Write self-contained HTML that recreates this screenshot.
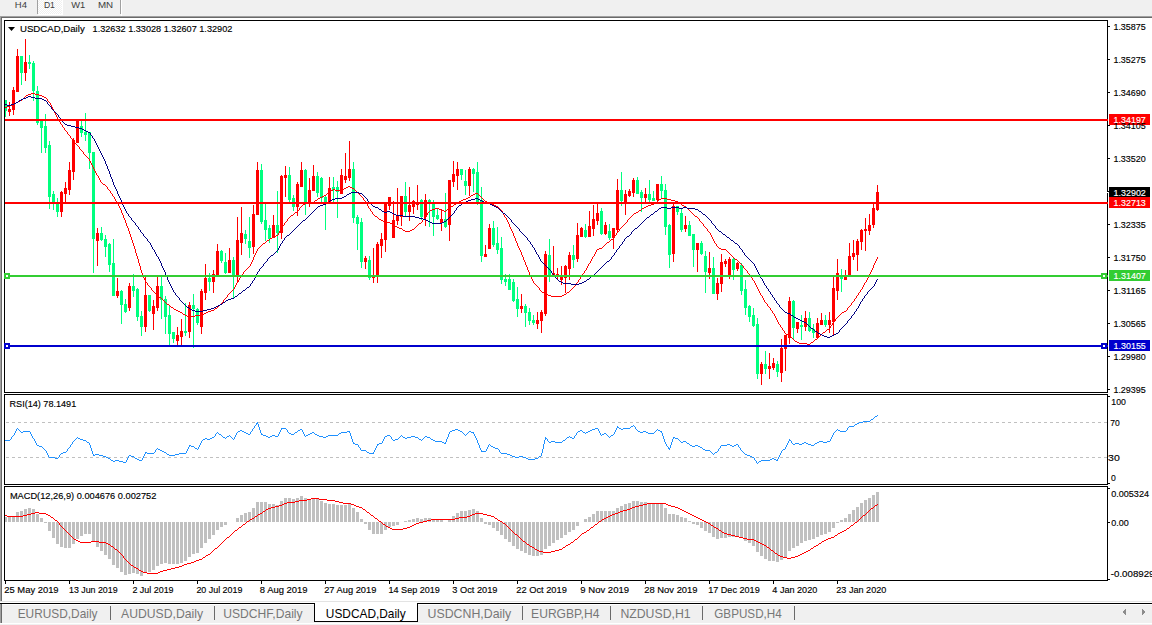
<!DOCTYPE html>
<html><head><meta charset="utf-8"><title>USDCAD,Daily</title>
<style>html,body{margin:0;padding:0;width:1152px;height:625px;overflow:hidden;background:#F0F0F0;font-family:"Liberation Sans", sans-serif;}</style>
</head><body>
<svg width="1152" height="625" viewBox="0 0 1152 625" style="position:absolute;left:0;top:0">
<rect x="0" y="0" width="1152" height="625" fill="#F0F0F0"/>
<g shape-rendering="crispEdges">
<rect x="0" y="16" width="1152" height="1" fill="#A0A0A0"/>
<rect x="0" y="17" width="1152" height="1" fill="#696969"/>
<rect x="0" y="16" width="1" height="586" fill="#A0A0A0"/>
<rect x="1" y="17" width="1" height="585" fill="#696969"/>
<rect x="2" y="18" width="1150" height="583" fill="#FFFFFF"/>
<rect x="0" y="601" width="1152" height="1" fill="#E3E3E3"/>
<rect x="0" y="602" width="1152" height="1" fill="#FFFFFF"/>
<rect x="0" y="603" width="1152" height="1" fill="#000000"/>
<rect x="0" y="604" width="1" height="19" fill="#A0A0A0"/>
<rect x="1" y="604" width="1" height="19" fill="#696969"/>
<rect x="2" y="604" width="1150" height="1" fill="#FFFFFF"/>
<rect x="0" y="623" width="1152" height="1" fill="#FFFFFF"/>
<rect x="314" y="603" width="104" height="19" fill="#000000"/>
<rect x="315" y="603" width="102" height="18" fill="#FFFFFF"/>
<rect x="110" y="606" width="1" height="14" fill="#6A6A6A"/>
<rect x="214" y="606" width="1" height="14" fill="#6A6A6A"/>
<rect x="522" y="606" width="1" height="14" fill="#6A6A6A"/>
<rect x="610" y="606" width="1" height="14" fill="#6A6A6A"/>
<rect x="702" y="606" width="1" height="14" fill="#6A6A6A"/>
<rect x="794" y="606" width="1" height="14" fill="#6A6A6A"/>
<rect x="37" y="0" width="1" height="14" fill="#A0A0A0"/>
<defs><pattern id="chk" x="0" y="0" width="2" height="2" patternUnits="userSpaceOnUse"><rect width="2" height="2" fill="#F0F0F0"/><rect width="1" height="1" fill="#FFFFFF"/><rect x="1" y="1" width="1" height="1" fill="#FFFFFF"/></pattern></defs>
<rect x="38" y="0" width="24" height="14" fill="url(#chk)"/>
<rect x="62" y="0" width="1" height="15" fill="#FFFFFF"/>
<rect x="38" y="14" width="25" height="1" fill="#FFFFFF"/>
<rect x="121" y="0" width="1" height="16" fill="#FFFFFF"/>
<rect x="120" y="0" width="1" height="14" fill="#A0A0A0"/>
<rect x="4" y="20" width="1104" height="1" fill="#000"/>
<rect x="4" y="392" width="1104" height="1" fill="#000"/>
<rect x="4" y="20" width="1" height="373" fill="#000"/>
<rect x="1107" y="20" width="1" height="373" fill="#000"/>
<rect x="4" y="394" width="1104" height="1" fill="#000"/>
<rect x="4" y="484" width="1104" height="1" fill="#000"/>
<rect x="4" y="394" width="1" height="91" fill="#000"/>
<rect x="1107" y="394" width="1" height="91" fill="#000"/>
<rect x="4" y="486" width="1104" height="1" fill="#000"/>
<rect x="4" y="580" width="1104" height="1" fill="#000"/>
<rect x="4" y="486" width="1" height="95" fill="#000"/>
<rect x="1107" y="486" width="1" height="95" fill="#000"/>
<rect x="1108" y="191" width="1" height="1" fill="#000"/>
<rect x="1107" y="192" width="1" height="1" fill="#FFF"/>
<rect x="1108" y="26" width="2" height="1" fill="#000"/>
<rect x="1108" y="59" width="2" height="1" fill="#000"/>
<rect x="1108" y="92" width="2" height="1" fill="#000"/>
<rect x="1108" y="125" width="2" height="1" fill="#000"/>
<rect x="1108" y="158" width="2" height="1" fill="#000"/>
<rect x="1108" y="191" width="2" height="1" fill="#000"/>
<rect x="1108" y="224" width="2" height="1" fill="#000"/>
<rect x="1108" y="257" width="2" height="1" fill="#000"/>
<rect x="1108" y="290" width="2" height="1" fill="#000"/>
<rect x="1108" y="323" width="2" height="1" fill="#000"/>
<rect x="1108" y="356" width="2" height="1" fill="#000"/>
<rect x="1108" y="389" width="2" height="1" fill="#000"/>
<rect x="1108" y="396" width="2" height="1" fill="#000"/>
<rect x="1108" y="483" width="2" height="1" fill="#000"/>
<rect x="1108" y="488" width="2" height="1" fill="#000"/>
<rect x="1108" y="522" width="2" height="1" fill="#000"/>
<rect x="1108" y="579" width="2" height="1" fill="#000"/>
<rect x="5" y="581" width="1" height="3" fill="#000"/>
<rect x="69" y="581" width="1" height="3" fill="#000"/>
<rect x="133" y="581" width="1" height="3" fill="#000"/>
<rect x="197" y="581" width="1" height="3" fill="#000"/>
<rect x="261" y="581" width="1" height="3" fill="#000"/>
<rect x="325" y="581" width="1" height="3" fill="#000"/>
<rect x="389" y="581" width="1" height="3" fill="#000"/>
<rect x="453" y="581" width="1" height="3" fill="#000"/>
<rect x="517" y="581" width="1" height="3" fill="#000"/>
<rect x="581" y="581" width="1" height="3" fill="#000"/>
<rect x="645" y="581" width="1" height="3" fill="#000"/>
<rect x="709" y="581" width="1" height="3" fill="#000"/>
<rect x="773" y="581" width="1" height="3" fill="#000"/>
<rect x="837" y="581" width="1" height="3" fill="#000"/>
<line x1="6" y1="422.5" x2="1107" y2="422.5" stroke="#C0C0C0" stroke-width="1" stroke-dasharray="3,3"/>
<line x1="6" y1="457.5" x2="1107" y2="457.5" stroke="#C0C0C0" stroke-width="1" stroke-dasharray="3,3"/>
<defs><clipPath id="mainclip"><rect x="5" y="21" width="1102" height="371"/></clipPath></defs>
<g clip-path="url(#mainclip)">
<rect x="5" y="100" width="1" height="17" fill="#00FF7F"/>
<rect x="4" y="100" width="3" height="11" fill="#00FF7F"/>
<rect x="9" y="102" width="1" height="14" fill="#FF0000"/>
<rect x="8" y="109" width="3" height="3" fill="#FF0000"/>
<rect x="13" y="87" width="1" height="28" fill="#FF0000"/>
<rect x="12" y="90" width="3" height="20" fill="#FF0000"/>
<rect x="17" y="49" width="1" height="43" fill="#FF0000"/>
<rect x="16" y="56" width="3" height="36" fill="#FF0000"/>
<rect x="21" y="56" width="1" height="29" fill="#00FF7F"/>
<rect x="20" y="56" width="3" height="17" fill="#00FF7F"/>
<rect x="25" y="39" width="1" height="42" fill="#FF0000"/>
<rect x="24" y="62" width="3" height="11" fill="#FF0000"/>
<rect x="29" y="55" width="1" height="14" fill="#00FF7F"/>
<rect x="28" y="62" width="3" height="2" fill="#00FF7F"/>
<rect x="33" y="61" width="1" height="40" fill="#00FF7F"/>
<rect x="32" y="63" width="3" height="28" fill="#00FF7F"/>
<rect x="37" y="86" width="1" height="39" fill="#00FF7F"/>
<rect x="36" y="91" width="3" height="32" fill="#00FF7F"/>
<rect x="41" y="119" width="1" height="34" fill="#00FF7F"/>
<rect x="40" y="121" width="3" height="7" fill="#00FF7F"/>
<rect x="45" y="114" width="1" height="39" fill="#00FF7F"/>
<rect x="44" y="126" width="3" height="22" fill="#00FF7F"/>
<rect x="49" y="141" width="1" height="68" fill="#00FF7F"/>
<rect x="48" y="145" width="3" height="52" fill="#00FF7F"/>
<rect x="53" y="191" width="1" height="19" fill="#00FF7F"/>
<rect x="52" y="194" width="3" height="8" fill="#00FF7F"/>
<rect x="57" y="198" width="1" height="19" fill="#00FF7F"/>
<rect x="56" y="204" width="3" height="8" fill="#00FF7F"/>
<rect x="61" y="191" width="1" height="26" fill="#FF0000"/>
<rect x="60" y="192" width="3" height="20" fill="#FF0000"/>
<rect x="65" y="182" width="1" height="21" fill="#FF0000"/>
<rect x="64" y="188" width="3" height="6" fill="#FF0000"/>
<rect x="69" y="162" width="1" height="33" fill="#FF0000"/>
<rect x="68" y="170" width="3" height="20" fill="#FF0000"/>
<rect x="73" y="138" width="1" height="42" fill="#FF0000"/>
<rect x="72" y="140" width="3" height="32" fill="#FF0000"/>
<rect x="77" y="120" width="1" height="23" fill="#FF0000"/>
<rect x="76" y="120" width="3" height="23" fill="#FF0000"/>
<rect x="81" y="120" width="1" height="17" fill="#00FF7F"/>
<rect x="80" y="126" width="3" height="7" fill="#00FF7F"/>
<rect x="85" y="113" width="1" height="28" fill="#00FF7F"/>
<rect x="84" y="132" width="3" height="3" fill="#00FF7F"/>
<rect x="89" y="132" width="1" height="37" fill="#00FF7F"/>
<rect x="88" y="132" width="3" height="21" fill="#00FF7F"/>
<rect x="93" y="152" width="1" height="121" fill="#00FF7F"/>
<rect x="92" y="152" width="3" height="87" fill="#00FF7F"/>
<rect x="97" y="228" width="1" height="38" fill="#FF0000"/>
<rect x="96" y="233" width="3" height="8" fill="#FF0000"/>
<rect x="101" y="227" width="1" height="14" fill="#00FF7F"/>
<rect x="100" y="233" width="3" height="7" fill="#00FF7F"/>
<rect x="105" y="235" width="1" height="22" fill="#00FF7F"/>
<rect x="104" y="239" width="3" height="8" fill="#00FF7F"/>
<rect x="109" y="243" width="1" height="29" fill="#00FF7F"/>
<rect x="108" y="244" width="3" height="21" fill="#00FF7F"/>
<rect x="113" y="239" width="1" height="57" fill="#00FF7F"/>
<rect x="112" y="263" width="3" height="33" fill="#00FF7F"/>
<rect x="117" y="278" width="1" height="20" fill="#FF0000"/>
<rect x="116" y="291" width="3" height="5" fill="#FF0000"/>
<rect x="121" y="290" width="1" height="34" fill="#00FF7F"/>
<rect x="120" y="291" width="3" height="14" fill="#00FF7F"/>
<rect x="125" y="299" width="1" height="14" fill="#00FF7F"/>
<rect x="124" y="304" width="3" height="8" fill="#00FF7F"/>
<rect x="129" y="283" width="1" height="28" fill="#FF0000"/>
<rect x="128" y="286" width="3" height="22" fill="#FF0000"/>
<rect x="133" y="274" width="1" height="23" fill="#00FF7F"/>
<rect x="132" y="286" width="3" height="5" fill="#00FF7F"/>
<rect x="137" y="288" width="1" height="33" fill="#00FF7F"/>
<rect x="136" y="289" width="3" height="28" fill="#00FF7F"/>
<rect x="141" y="311" width="1" height="25" fill="#00FF7F"/>
<rect x="140" y="316" width="3" height="11" fill="#00FF7F"/>
<rect x="145" y="276" width="1" height="56" fill="#FF0000"/>
<rect x="144" y="295" width="3" height="32" fill="#FF0000"/>
<rect x="149" y="295" width="1" height="17" fill="#00FF7F"/>
<rect x="148" y="295" width="3" height="16" fill="#00FF7F"/>
<rect x="153" y="300" width="1" height="30" fill="#FF0000"/>
<rect x="152" y="306" width="3" height="8" fill="#FF0000"/>
<rect x="157" y="277" width="1" height="34" fill="#FF0000"/>
<rect x="156" y="286" width="3" height="22" fill="#FF0000"/>
<rect x="161" y="277" width="1" height="42" fill="#00FF7F"/>
<rect x="160" y="286" width="3" height="14" fill="#00FF7F"/>
<rect x="165" y="296" width="1" height="38" fill="#00FF7F"/>
<rect x="164" y="299" width="3" height="18" fill="#00FF7F"/>
<rect x="169" y="306" width="1" height="40" fill="#00FF7F"/>
<rect x="168" y="315" width="3" height="19" fill="#00FF7F"/>
<rect x="173" y="332" width="1" height="11" fill="#00FF7F"/>
<rect x="172" y="332" width="3" height="7" fill="#00FF7F"/>
<rect x="177" y="327" width="1" height="19" fill="#FF0000"/>
<rect x="176" y="335" width="3" height="6" fill="#FF0000"/>
<rect x="181" y="319" width="1" height="26" fill="#FF0000"/>
<rect x="180" y="331" width="3" height="6" fill="#FF0000"/>
<rect x="185" y="303" width="1" height="33" fill="#00FF7F"/>
<rect x="184" y="331" width="3" height="2" fill="#00FF7F"/>
<rect x="189" y="302" width="1" height="36" fill="#FF0000"/>
<rect x="188" y="305" width="3" height="27" fill="#FF0000"/>
<rect x="193" y="294" width="1" height="54" fill="#00FF7F"/>
<rect x="192" y="305" width="3" height="4" fill="#00FF7F"/>
<rect x="197" y="308" width="1" height="17" fill="#00FF7F"/>
<rect x="196" y="309" width="3" height="14" fill="#00FF7F"/>
<rect x="201" y="289" width="1" height="45" fill="#FF0000"/>
<rect x="200" y="291" width="3" height="36" fill="#FF0000"/>
<rect x="205" y="264" width="1" height="36" fill="#FF0000"/>
<rect x="204" y="278" width="3" height="15" fill="#FF0000"/>
<rect x="209" y="273" width="1" height="18" fill="#00FF7F"/>
<rect x="208" y="278" width="3" height="4" fill="#00FF7F"/>
<rect x="213" y="270" width="1" height="23" fill="#FF0000"/>
<rect x="212" y="274" width="3" height="8" fill="#FF0000"/>
<rect x="217" y="244" width="1" height="32" fill="#FF0000"/>
<rect x="216" y="251" width="3" height="25" fill="#FF0000"/>
<rect x="221" y="250" width="1" height="13" fill="#00FF7F"/>
<rect x="220" y="251" width="3" height="10" fill="#00FF7F"/>
<rect x="225" y="253" width="1" height="21" fill="#00FF7F"/>
<rect x="224" y="262" width="3" height="11" fill="#00FF7F"/>
<rect x="229" y="248" width="1" height="25" fill="#FF0000"/>
<rect x="228" y="260" width="3" height="13" fill="#FF0000"/>
<rect x="233" y="257" width="1" height="42" fill="#00FF7F"/>
<rect x="232" y="260" width="3" height="16" fill="#00FF7F"/>
<rect x="237" y="217" width="1" height="66" fill="#FF0000"/>
<rect x="236" y="240" width="3" height="36" fill="#FF0000"/>
<rect x="241" y="207" width="1" height="48" fill="#FF0000"/>
<rect x="240" y="233" width="3" height="10" fill="#FF0000"/>
<rect x="245" y="230" width="1" height="14" fill="#00FF7F"/>
<rect x="244" y="234" width="3" height="5" fill="#00FF7F"/>
<rect x="249" y="217" width="1" height="41" fill="#00FF7F"/>
<rect x="248" y="241" width="3" height="7" fill="#00FF7F"/>
<rect x="253" y="205" width="1" height="49" fill="#FF0000"/>
<rect x="252" y="214" width="3" height="33" fill="#FF0000"/>
<rect x="257" y="162" width="1" height="53" fill="#FF0000"/>
<rect x="256" y="170" width="3" height="45" fill="#FF0000"/>
<rect x="261" y="164" width="1" height="60" fill="#00FF7F"/>
<rect x="260" y="170" width="3" height="52" fill="#00FF7F"/>
<rect x="265" y="203" width="1" height="38" fill="#00FF7F"/>
<rect x="264" y="220" width="3" height="10" fill="#00FF7F"/>
<rect x="269" y="225" width="1" height="18" fill="#00FF7F"/>
<rect x="268" y="228" width="3" height="11" fill="#00FF7F"/>
<rect x="273" y="215" width="1" height="23" fill="#FF0000"/>
<rect x="272" y="225" width="3" height="13" fill="#FF0000"/>
<rect x="277" y="191" width="1" height="62" fill="#00FF7F"/>
<rect x="276" y="225" width="3" height="8" fill="#00FF7F"/>
<rect x="281" y="175" width="1" height="64" fill="#FF0000"/>
<rect x="280" y="176" width="3" height="57" fill="#FF0000"/>
<rect x="285" y="166" width="1" height="31" fill="#FF0000"/>
<rect x="284" y="175" width="3" height="3" fill="#FF0000"/>
<rect x="289" y="167" width="1" height="35" fill="#00FF7F"/>
<rect x="288" y="175" width="3" height="25" fill="#00FF7F"/>
<rect x="293" y="195" width="1" height="16" fill="#00FF7F"/>
<rect x="292" y="198" width="3" height="9" fill="#00FF7F"/>
<rect x="297" y="182" width="1" height="34" fill="#FF0000"/>
<rect x="296" y="184" width="3" height="23" fill="#FF0000"/>
<rect x="301" y="162" width="1" height="25" fill="#FF0000"/>
<rect x="300" y="170" width="3" height="17" fill="#FF0000"/>
<rect x="305" y="169" width="1" height="46" fill="#00FF7F"/>
<rect x="304" y="170" width="3" height="33" fill="#00FF7F"/>
<rect x="309" y="178" width="1" height="29" fill="#FF0000"/>
<rect x="308" y="190" width="3" height="14" fill="#FF0000"/>
<rect x="313" y="165" width="1" height="26" fill="#FF0000"/>
<rect x="312" y="176" width="3" height="15" fill="#FF0000"/>
<rect x="317" y="172" width="1" height="25" fill="#00FF7F"/>
<rect x="316" y="176" width="3" height="17" fill="#00FF7F"/>
<rect x="321" y="177" width="1" height="25" fill="#00FF7F"/>
<rect x="320" y="178" width="3" height="20" fill="#00FF7F"/>
<rect x="325" y="196" width="1" height="34" fill="#00FF7F"/>
<rect x="324" y="197" width="3" height="6" fill="#00FF7F"/>
<rect x="329" y="177" width="1" height="25" fill="#FF0000"/>
<rect x="328" y="188" width="3" height="14" fill="#FF0000"/>
<rect x="333" y="177" width="1" height="26" fill="#00FF7F"/>
<rect x="332" y="187" width="3" height="3" fill="#00FF7F"/>
<rect x="337" y="181" width="1" height="37" fill="#00FF7F"/>
<rect x="336" y="187" width="3" height="5" fill="#00FF7F"/>
<rect x="341" y="169" width="1" height="25" fill="#FF0000"/>
<rect x="340" y="175" width="3" height="19" fill="#FF0000"/>
<rect x="345" y="153" width="1" height="30" fill="#FF0000"/>
<rect x="344" y="176" width="3" height="4" fill="#FF0000"/>
<rect x="349" y="141" width="1" height="40" fill="#FF0000"/>
<rect x="348" y="169" width="3" height="9" fill="#FF0000"/>
<rect x="353" y="162" width="1" height="61" fill="#00FF7F"/>
<rect x="352" y="169" width="3" height="49" fill="#00FF7F"/>
<rect x="357" y="215" width="1" height="35" fill="#00FF7F"/>
<rect x="356" y="217" width="3" height="7" fill="#00FF7F"/>
<rect x="361" y="218" width="1" height="50" fill="#00FF7F"/>
<rect x="360" y="222" width="3" height="40" fill="#00FF7F"/>
<rect x="365" y="256" width="1" height="13" fill="#FF0000"/>
<rect x="364" y="258" width="3" height="4" fill="#FF0000"/>
<rect x="369" y="256" width="1" height="24" fill="#00FF7F"/>
<rect x="368" y="260" width="3" height="18" fill="#00FF7F"/>
<rect x="373" y="248" width="1" height="35" fill="#FF0000"/>
<rect x="372" y="276" width="3" height="2" fill="#FF0000"/>
<rect x="377" y="242" width="1" height="41" fill="#FF0000"/>
<rect x="376" y="244" width="3" height="33" fill="#FF0000"/>
<rect x="381" y="233" width="1" height="25" fill="#FF0000"/>
<rect x="380" y="239" width="3" height="7" fill="#FF0000"/>
<rect x="385" y="203" width="1" height="49" fill="#FF0000"/>
<rect x="384" y="204" width="3" height="36" fill="#FF0000"/>
<rect x="389" y="197" width="1" height="13" fill="#FF0000"/>
<rect x="388" y="197" width="3" height="9" fill="#FF0000"/>
<rect x="393" y="201" width="1" height="37" fill="#FF0000"/>
<rect x="392" y="220" width="3" height="18" fill="#FF0000"/>
<rect x="397" y="188" width="1" height="37" fill="#FF0000"/>
<rect x="396" y="216" width="3" height="5" fill="#FF0000"/>
<rect x="401" y="196" width="1" height="30" fill="#FF0000"/>
<rect x="400" y="196" width="3" height="21" fill="#FF0000"/>
<rect x="405" y="182" width="1" height="35" fill="#00FF7F"/>
<rect x="404" y="196" width="3" height="16" fill="#00FF7F"/>
<rect x="409" y="187" width="1" height="34" fill="#FF0000"/>
<rect x="408" y="205" width="3" height="7" fill="#FF0000"/>
<rect x="413" y="200" width="1" height="14" fill="#FF0000"/>
<rect x="412" y="201" width="3" height="6" fill="#FF0000"/>
<rect x="417" y="185" width="1" height="25" fill="#FF0000"/>
<rect x="416" y="203" width="3" height="2" fill="#FF0000"/>
<rect x="421" y="199" width="1" height="21" fill="#00FF7F"/>
<rect x="420" y="200" width="3" height="17" fill="#00FF7F"/>
<rect x="425" y="194" width="1" height="32" fill="#FF0000"/>
<rect x="424" y="200" width="3" height="17" fill="#FF0000"/>
<rect x="429" y="199" width="1" height="28" fill="#00FF7F"/>
<rect x="428" y="200" width="3" height="4" fill="#00FF7F"/>
<rect x="433" y="200" width="1" height="36" fill="#00FF7F"/>
<rect x="432" y="204" width="3" height="13" fill="#00FF7F"/>
<rect x="437" y="208" width="1" height="12" fill="#00FF7F"/>
<rect x="436" y="215" width="3" height="4" fill="#00FF7F"/>
<rect x="441" y="210" width="1" height="21" fill="#FF0000"/>
<rect x="440" y="219" width="3" height="4" fill="#FF0000"/>
<rect x="445" y="193" width="1" height="35" fill="#00FF7F"/>
<rect x="444" y="219" width="3" height="8" fill="#00FF7F"/>
<rect x="449" y="180" width="1" height="61" fill="#FF0000"/>
<rect x="448" y="180" width="3" height="45" fill="#FF0000"/>
<rect x="453" y="161" width="1" height="26" fill="#FF0000"/>
<rect x="452" y="174" width="3" height="8" fill="#FF0000"/>
<rect x="457" y="162" width="1" height="28" fill="#FF0000"/>
<rect x="456" y="169" width="3" height="7" fill="#FF0000"/>
<rect x="461" y="169" width="1" height="11" fill="#00FF7F"/>
<rect x="460" y="169" width="3" height="6" fill="#00FF7F"/>
<rect x="465" y="170" width="1" height="25" fill="#00FF7F"/>
<rect x="464" y="181" width="3" height="5" fill="#00FF7F"/>
<rect x="469" y="167" width="1" height="29" fill="#FF0000"/>
<rect x="468" y="169" width="3" height="17" fill="#FF0000"/>
<rect x="473" y="168" width="1" height="24" fill="#00FF7F"/>
<rect x="472" y="169" width="3" height="5" fill="#00FF7F"/>
<rect x="477" y="162" width="1" height="43" fill="#00FF7F"/>
<rect x="476" y="172" width="3" height="31" fill="#00FF7F"/>
<rect x="481" y="187" width="1" height="75" fill="#00FF7F"/>
<rect x="480" y="200" width="3" height="56" fill="#00FF7F"/>
<rect x="485" y="245" width="1" height="12" fill="#FF0000"/>
<rect x="484" y="254" width="3" height="3" fill="#FF0000"/>
<rect x="489" y="224" width="1" height="25" fill="#FF0000"/>
<rect x="488" y="228" width="3" height="21" fill="#FF0000"/>
<rect x="493" y="221" width="1" height="26" fill="#00FF7F"/>
<rect x="492" y="228" width="3" height="17" fill="#00FF7F"/>
<rect x="497" y="227" width="1" height="27" fill="#00FF7F"/>
<rect x="496" y="243" width="3" height="7" fill="#00FF7F"/>
<rect x="501" y="237" width="1" height="47" fill="#00FF7F"/>
<rect x="500" y="248" width="3" height="32" fill="#00FF7F"/>
<rect x="505" y="274" width="1" height="12" fill="#00FF7F"/>
<rect x="504" y="279" width="3" height="3" fill="#00FF7F"/>
<rect x="509" y="274" width="1" height="16" fill="#00FF7F"/>
<rect x="508" y="279" width="3" height="11" fill="#00FF7F"/>
<rect x="513" y="279" width="1" height="23" fill="#00FF7F"/>
<rect x="512" y="282" width="3" height="19" fill="#00FF7F"/>
<rect x="517" y="287" width="1" height="30" fill="#00FF7F"/>
<rect x="516" y="299" width="3" height="10" fill="#00FF7F"/>
<rect x="521" y="294" width="1" height="19" fill="#FF0000"/>
<rect x="520" y="306" width="3" height="3" fill="#FF0000"/>
<rect x="525" y="304" width="1" height="23" fill="#00FF7F"/>
<rect x="524" y="306" width="3" height="7" fill="#00FF7F"/>
<rect x="529" y="308" width="1" height="17" fill="#00FF7F"/>
<rect x="528" y="312" width="3" height="9" fill="#00FF7F"/>
<rect x="533" y="315" width="1" height="10" fill="#00FF7F"/>
<rect x="532" y="320" width="3" height="3" fill="#00FF7F"/>
<rect x="537" y="312" width="1" height="17" fill="#FF0000"/>
<rect x="536" y="320" width="3" height="4" fill="#FF0000"/>
<rect x="541" y="310" width="1" height="23" fill="#FF0000"/>
<rect x="540" y="312" width="3" height="9" fill="#FF0000"/>
<rect x="545" y="251" width="1" height="65" fill="#FF0000"/>
<rect x="544" y="254" width="3" height="60" fill="#FF0000"/>
<rect x="549" y="239" width="1" height="43" fill="#00FF7F"/>
<rect x="548" y="255" width="3" height="21" fill="#00FF7F"/>
<rect x="553" y="246" width="1" height="31" fill="#FF0000"/>
<rect x="552" y="273" width="3" height="3" fill="#FF0000"/>
<rect x="557" y="268" width="1" height="11" fill="#FF0000"/>
<rect x="556" y="274" width="3" height="3" fill="#FF0000"/>
<rect x="561" y="266" width="1" height="19" fill="#FF0000"/>
<rect x="560" y="276" width="3" height="4" fill="#FF0000"/>
<rect x="565" y="265" width="1" height="28" fill="#FF0000"/>
<rect x="564" y="266" width="3" height="12" fill="#FF0000"/>
<rect x="569" y="252" width="1" height="28" fill="#FF0000"/>
<rect x="568" y="255" width="3" height="14" fill="#FF0000"/>
<rect x="573" y="245" width="1" height="23" fill="#00FF7F"/>
<rect x="572" y="255" width="3" height="5" fill="#00FF7F"/>
<rect x="577" y="223" width="1" height="39" fill="#FF0000"/>
<rect x="576" y="235" width="3" height="24" fill="#FF0000"/>
<rect x="581" y="227" width="1" height="10" fill="#FF0000"/>
<rect x="580" y="228" width="3" height="9" fill="#FF0000"/>
<rect x="585" y="224" width="1" height="14" fill="#00FF7F"/>
<rect x="584" y="230" width="3" height="7" fill="#00FF7F"/>
<rect x="589" y="211" width="1" height="26" fill="#FF0000"/>
<rect x="588" y="226" width="3" height="11" fill="#FF0000"/>
<rect x="593" y="205" width="1" height="31" fill="#FF0000"/>
<rect x="592" y="219" width="3" height="10" fill="#FF0000"/>
<rect x="597" y="204" width="1" height="21" fill="#FF0000"/>
<rect x="596" y="213" width="3" height="8" fill="#FF0000"/>
<rect x="601" y="208" width="1" height="27" fill="#00FF7F"/>
<rect x="600" y="211" width="3" height="23" fill="#00FF7F"/>
<rect x="605" y="222" width="1" height="13" fill="#FF0000"/>
<rect x="604" y="225" width="3" height="9" fill="#FF0000"/>
<rect x="609" y="224" width="1" height="16" fill="#00FF7F"/>
<rect x="608" y="231" width="3" height="7" fill="#00FF7F"/>
<rect x="613" y="228" width="1" height="21" fill="#FF0000"/>
<rect x="612" y="228" width="3" height="10" fill="#FF0000"/>
<rect x="617" y="179" width="1" height="54" fill="#FF0000"/>
<rect x="616" y="190" width="3" height="40" fill="#FF0000"/>
<rect x="621" y="172" width="1" height="34" fill="#00FF7F"/>
<rect x="620" y="190" width="3" height="11" fill="#00FF7F"/>
<rect x="625" y="190" width="1" height="25" fill="#FF0000"/>
<rect x="624" y="194" width="3" height="8" fill="#FF0000"/>
<rect x="629" y="189" width="1" height="8" fill="#FF0000"/>
<rect x="628" y="191" width="3" height="5" fill="#FF0000"/>
<rect x="633" y="178" width="1" height="19" fill="#FF0000"/>
<rect x="632" y="180" width="3" height="13" fill="#FF0000"/>
<rect x="637" y="177" width="1" height="17" fill="#00FF7F"/>
<rect x="636" y="180" width="3" height="14" fill="#00FF7F"/>
<rect x="641" y="190" width="1" height="22" fill="#00FF7F"/>
<rect x="640" y="192" width="3" height="6" fill="#00FF7F"/>
<rect x="645" y="188" width="1" height="15" fill="#FF0000"/>
<rect x="644" y="194" width="3" height="4" fill="#FF0000"/>
<rect x="649" y="180" width="1" height="22" fill="#00FF7F"/>
<rect x="648" y="194" width="3" height="6" fill="#00FF7F"/>
<rect x="653" y="191" width="1" height="10" fill="#00FF7F"/>
<rect x="652" y="198" width="3" height="3" fill="#00FF7F"/>
<rect x="657" y="184" width="1" height="18" fill="#FF0000"/>
<rect x="656" y="184" width="3" height="16" fill="#FF0000"/>
<rect x="661" y="176" width="1" height="23" fill="#00FF7F"/>
<rect x="660" y="184" width="3" height="7" fill="#00FF7F"/>
<rect x="665" y="184" width="1" height="51" fill="#00FF7F"/>
<rect x="664" y="190" width="3" height="37" fill="#00FF7F"/>
<rect x="669" y="224" width="1" height="44" fill="#00FF7F"/>
<rect x="668" y="225" width="3" height="30" fill="#00FF7F"/>
<rect x="673" y="204" width="1" height="58" fill="#FF0000"/>
<rect x="672" y="206" width="3" height="48" fill="#FF0000"/>
<rect x="677" y="206" width="1" height="9" fill="#00FF7F"/>
<rect x="676" y="206" width="3" height="6" fill="#00FF7F"/>
<rect x="681" y="208" width="1" height="24" fill="#00FF7F"/>
<rect x="680" y="213" width="3" height="17" fill="#00FF7F"/>
<rect x="685" y="216" width="1" height="16" fill="#FF0000"/>
<rect x="684" y="225" width="3" height="4" fill="#FF0000"/>
<rect x="689" y="221" width="1" height="15" fill="#00FF7F"/>
<rect x="688" y="225" width="3" height="11" fill="#00FF7F"/>
<rect x="693" y="234" width="1" height="33" fill="#00FF7F"/>
<rect x="692" y="234" width="3" height="16" fill="#00FF7F"/>
<rect x="697" y="243" width="1" height="29" fill="#FF0000"/>
<rect x="696" y="243" width="3" height="7" fill="#FF0000"/>
<rect x="701" y="241" width="1" height="14" fill="#00FF7F"/>
<rect x="700" y="243" width="3" height="11" fill="#00FF7F"/>
<rect x="705" y="251" width="1" height="42" fill="#00FF7F"/>
<rect x="704" y="256" width="3" height="16" fill="#00FF7F"/>
<rect x="709" y="252" width="1" height="27" fill="#FF0000"/>
<rect x="708" y="268" width="3" height="5" fill="#FF0000"/>
<rect x="713" y="257" width="1" height="37" fill="#00FF7F"/>
<rect x="712" y="268" width="3" height="26" fill="#00FF7F"/>
<rect x="717" y="278" width="1" height="22" fill="#FF0000"/>
<rect x="716" y="283" width="3" height="11" fill="#FF0000"/>
<rect x="721" y="254" width="1" height="38" fill="#FF0000"/>
<rect x="720" y="262" width="3" height="22" fill="#FF0000"/>
<rect x="725" y="259" width="1" height="8" fill="#FF0000"/>
<rect x="724" y="261" width="3" height="3" fill="#FF0000"/>
<rect x="729" y="257" width="1" height="22" fill="#FF0000"/>
<rect x="728" y="259" width="3" height="17" fill="#FF0000"/>
<rect x="733" y="258" width="1" height="22" fill="#00FF7F"/>
<rect x="732" y="259" width="3" height="11" fill="#00FF7F"/>
<rect x="737" y="262" width="1" height="9" fill="#FF0000"/>
<rect x="736" y="263" width="3" height="6" fill="#FF0000"/>
<rect x="741" y="263" width="1" height="32" fill="#00FF7F"/>
<rect x="740" y="265" width="3" height="26" fill="#00FF7F"/>
<rect x="745" y="280" width="1" height="35" fill="#00FF7F"/>
<rect x="744" y="289" width="3" height="19" fill="#00FF7F"/>
<rect x="749" y="305" width="1" height="17" fill="#00FF7F"/>
<rect x="748" y="306" width="3" height="11" fill="#00FF7F"/>
<rect x="753" y="308" width="1" height="19" fill="#00FF7F"/>
<rect x="752" y="315" width="3" height="11" fill="#00FF7F"/>
<rect x="757" y="318" width="1" height="61" fill="#00FF7F"/>
<rect x="756" y="324" width="3" height="50" fill="#00FF7F"/>
<rect x="761" y="362" width="1" height="23" fill="#FF0000"/>
<rect x="760" y="364" width="3" height="10" fill="#FF0000"/>
<rect x="765" y="351" width="1" height="23" fill="#00FF7F"/>
<rect x="764" y="364" width="3" height="5" fill="#00FF7F"/>
<rect x="769" y="353" width="1" height="26" fill="#FF0000"/>
<rect x="768" y="366" width="3" height="3" fill="#FF0000"/>
<rect x="773" y="358" width="1" height="12" fill="#FF0000"/>
<rect x="772" y="363" width="3" height="5" fill="#FF0000"/>
<rect x="777" y="361" width="1" height="16" fill="#00FF7F"/>
<rect x="776" y="364" width="3" height="8" fill="#00FF7F"/>
<rect x="781" y="339" width="1" height="43" fill="#FF0000"/>
<rect x="780" y="348" width="3" height="25" fill="#FF0000"/>
<rect x="785" y="335" width="1" height="36" fill="#FF0000"/>
<rect x="784" y="335" width="3" height="14" fill="#FF0000"/>
<rect x="789" y="297" width="1" height="47" fill="#FF0000"/>
<rect x="788" y="301" width="3" height="37" fill="#FF0000"/>
<rect x="793" y="300" width="1" height="39" fill="#00FF7F"/>
<rect x="792" y="301" width="3" height="27" fill="#00FF7F"/>
<rect x="797" y="322" width="1" height="11" fill="#FF0000"/>
<rect x="796" y="322" width="3" height="7" fill="#FF0000"/>
<rect x="801" y="315" width="1" height="25" fill="#00FF7F"/>
<rect x="800" y="325" width="3" height="2" fill="#00FF7F"/>
<rect x="805" y="311" width="1" height="20" fill="#FF0000"/>
<rect x="804" y="318" width="3" height="9" fill="#FF0000"/>
<rect x="809" y="312" width="1" height="20" fill="#00FF7F"/>
<rect x="808" y="318" width="3" height="13" fill="#00FF7F"/>
<rect x="813" y="324" width="1" height="14" fill="#00FF7F"/>
<rect x="812" y="329" width="3" height="4" fill="#00FF7F"/>
<rect x="817" y="318" width="1" height="21" fill="#FF0000"/>
<rect x="816" y="323" width="3" height="15" fill="#FF0000"/>
<rect x="821" y="313" width="1" height="12" fill="#FF0000"/>
<rect x="820" y="320" width="3" height="5" fill="#FF0000"/>
<rect x="825" y="315" width="1" height="12" fill="#00FF7F"/>
<rect x="824" y="320" width="3" height="5" fill="#00FF7F"/>
<rect x="829" y="312" width="1" height="21" fill="#FF0000"/>
<rect x="828" y="320" width="3" height="5" fill="#FF0000"/>
<rect x="833" y="277" width="1" height="59" fill="#FF0000"/>
<rect x="832" y="288" width="3" height="34" fill="#FF0000"/>
<rect x="837" y="259" width="1" height="41" fill="#FF0000"/>
<rect x="836" y="273" width="3" height="18" fill="#FF0000"/>
<rect x="841" y="269" width="1" height="23" fill="#00FF7F"/>
<rect x="840" y="276" width="3" height="3" fill="#00FF7F"/>
<rect x="845" y="270" width="1" height="10" fill="#FF0000"/>
<rect x="844" y="277" width="3" height="3" fill="#FF0000"/>
<rect x="849" y="243" width="1" height="32" fill="#FF0000"/>
<rect x="848" y="256" width="3" height="19" fill="#FF0000"/>
<rect x="853" y="240" width="1" height="20" fill="#FF0000"/>
<rect x="852" y="253" width="3" height="4" fill="#FF0000"/>
<rect x="857" y="239" width="1" height="32" fill="#FF0000"/>
<rect x="856" y="241" width="3" height="14" fill="#FF0000"/>
<rect x="861" y="229" width="1" height="21" fill="#FF0000"/>
<rect x="860" y="230" width="3" height="12" fill="#FF0000"/>
<rect x="865" y="218" width="1" height="33" fill="#FF0000"/>
<rect x="864" y="229" width="3" height="2" fill="#FF0000"/>
<rect x="869" y="214" width="1" height="21" fill="#FF0000"/>
<rect x="868" y="225" width="3" height="6" fill="#FF0000"/>
<rect x="873" y="204" width="1" height="24" fill="#FF0000"/>
<rect x="872" y="208" width="3" height="17" fill="#FF0000"/>
<rect x="877" y="185" width="1" height="26" fill="#FF0000"/>
<rect x="876" y="192" width="3" height="18" fill="#FF0000"/>
</g>
</g>
<path d="M5 107h1v1h-1zM6 107h1v1h-1zM7 106h1v1h-1zM8 106h1v1h-1zM9 106h1v1h-1zM10 105h1v1h-1zM11 105h1v1h-1zM12 104h1v1h-1zM13 104h1v1h-1zM14 103h1v1h-1zM15 103h1v1h-1zM16 102h1v1h-1zM17 102h1v1h-1zM18 101h1v1h-1zM19 101h1v1h-1zM20 100h1v1h-1zM21 100h1v1h-1zM22 99h1v1h-1zM23 98h1v1h-1zM24 97h1v1h-1zM25 96h1v1h-1zM26 95h1v1h-1zM27 95h1v1h-1zM28 94h1v1h-1zM29 94h1v1h-1zM30 94h1v1h-1zM31 93h1v1h-1zM32 93h1v1h-1zM33 93h1v1h-1zM34 93h1v1h-1zM35 94h1v1h-1zM36 94h1v1h-1zM37 94h1v1h-1zM38 94h1v1h-1zM39 95h1v1h-1zM40 95h1v1h-1zM41 95h1v1h-1zM42 96h1v1h-1zM43 96h1v1h-1zM44 97h1v1h-1zM45 97h1v1h-1zM46 98h1v1h-1zM47 99h1v2h-1zM48 101h1v1h-1zM49 102h1v1h-1zM50 103h1v2h-1zM51 105h1v2h-1zM52 107h1v2h-1zM53 109h1v2h-1zM54 111h1v2h-1zM55 113h1v2h-1zM56 115h1v2h-1zM57 117h1v2h-1zM58 119h1v2h-1zM59 121h1v1h-1zM60 122h1v2h-1zM61 124h1v1h-1zM62 125h1v2h-1zM63 127h1v1h-1zM64 128h1v2h-1zM65 130h1v1h-1zM66 131h1v1h-1zM67 132h1v2h-1zM68 134h1v1h-1zM69 135h1v1h-1zM70 136h1v2h-1zM71 138h1v1h-1zM72 139h1v2h-1zM73 141h1v1h-1zM74 142h1v1h-1zM75 143h1v1h-1zM76 144h1v1h-1zM77 145h1v1h-1zM78 146h1v1h-1zM79 147h1v2h-1zM80 149h1v1h-1zM81 150h1v1h-1zM82 151h1v1h-1zM83 152h1v2h-1zM84 154h1v1h-1zM85 155h1v1h-1zM86 156h1v1h-1zM87 157h1v1h-1zM88 158h1v1h-1zM89 159h1v2h-1zM90 161h1v2h-1zM91 163h1v2h-1zM92 165h1v2h-1zM93 167h1v2h-1zM94 169h1v2h-1zM95 171h1v2h-1zM96 173h1v2h-1zM97 175h1v1h-1zM98 176h1v2h-1zM99 178h1v2h-1zM100 180h1v2h-1zM101 182h1v1h-1zM102 183h1v1h-1zM103 184h1v1h-1zM104 184h1v1h-1zM105 185h1v1h-1zM106 186h1v1h-1zM107 187h1v2h-1zM108 189h1v1h-1zM109 190h1v1h-1zM110 191h1v2h-1zM111 193h1v1h-1zM112 194h1v2h-1zM113 196h1v1h-1zM114 197h1v2h-1zM115 199h1v2h-1zM116 201h1v2h-1zM117 203h1v1h-1zM118 204h1v2h-1zM119 206h1v2h-1zM120 208h1v2h-1zM121 210h1v3h-1zM122 213h1v2h-1zM123 215h1v3h-1zM124 218h1v2h-1zM125 220h1v3h-1zM126 223h1v3h-1zM127 226h1v2h-1zM128 228h1v3h-1zM129 231h1v3h-1zM130 234h1v3h-1zM131 237h1v3h-1zM132 240h1v3h-1zM133 243h1v3h-1zM134 246h1v3h-1zM135 249h1v4h-1zM136 253h1v3h-1zM137 256h1v3h-1zM138 259h1v4h-1zM139 263h1v3h-1zM140 266h1v4h-1zM141 270h1v3h-1zM142 273h1v2h-1zM143 275h1v3h-1zM144 278h1v2h-1zM145 280h1v2h-1zM146 282h1v1h-1zM147 283h1v2h-1zM148 285h1v1h-1zM149 286h1v1h-1zM150 287h1v1h-1zM151 288h1v2h-1zM152 290h1v1h-1zM153 291h1v1h-1zM154 292h1v1h-1zM155 293h1v1h-1zM156 294h1v1h-1zM157 295h1v1h-1zM158 296h1v1h-1zM159 297h1v1h-1zM160 297h1v1h-1zM161 298h1v1h-1zM162 299h1v1h-1zM163 300h1v1h-1zM164 301h1v1h-1zM165 302h1v1h-1zM166 303h1v1h-1zM167 304h1v1h-1zM168 304h1v1h-1zM169 305h1v1h-1zM170 306h1v1h-1zM171 307h1v1h-1zM172 307h1v1h-1zM173 308h1v1h-1zM174 309h1v1h-1zM175 309h1v1h-1zM176 310h1v1h-1zM177 310h1v1h-1zM178 311h1v1h-1zM179 311h1v1h-1zM180 312h1v1h-1zM181 312h1v1h-1zM182 313h1v1h-1zM183 314h1v1h-1zM184 314h1v1h-1zM185 315h1v1h-1zM186 315h1v1h-1zM187 316h1v1h-1zM188 316h1v1h-1zM189 316h1v1h-1zM190 316h1v1h-1zM191 316h1v1h-1zM192 316h1v1h-1zM193 316h1v1h-1zM194 316h1v1h-1zM195 315h1v1h-1zM196 315h1v1h-1zM197 315h1v1h-1zM198 315h1v1h-1zM199 315h1v1h-1zM200 315h1v1h-1zM201 315h1v1h-1zM202 314h1v1h-1zM203 314h1v1h-1zM204 313h1v1h-1zM205 313h1v1h-1zM206 312h1v1h-1zM207 312h1v1h-1zM208 311h1v1h-1zM209 311h1v1h-1zM210 311h1v1h-1zM211 310h1v1h-1zM212 310h1v1h-1zM213 310h1v1h-1zM214 309h1v1h-1zM215 308h1v1h-1zM216 308h1v1h-1zM217 307h1v1h-1zM218 306h1v1h-1zM219 305h1v1h-1zM220 304h1v1h-1zM221 303h1v1h-1zM222 302h1v1h-1zM223 300h1v2h-1zM224 299h1v1h-1zM225 298h1v1h-1zM226 297h1v1h-1zM227 295h1v2h-1zM228 294h1v1h-1zM229 293h1v1h-1zM230 292h1v1h-1zM231 291h1v1h-1zM232 290h1v1h-1zM233 289h1v1h-1zM234 287h1v2h-1zM235 285h1v2h-1zM236 283h1v2h-1zM237 282h1v1h-1zM238 280h1v2h-1zM239 278h1v2h-1zM240 276h1v2h-1zM241 275h1v1h-1zM242 274h1v1h-1zM243 272h1v2h-1zM244 271h1v1h-1zM245 270h1v1h-1zM246 269h1v1h-1zM247 268h1v1h-1zM248 267h1v1h-1zM249 266h1v1h-1zM250 264h1v2h-1zM251 262h1v2h-1zM252 260h1v2h-1zM253 257h1v3h-1zM254 255h1v2h-1zM255 253h1v2h-1zM256 251h1v2h-1zM257 249h1v2h-1zM258 248h1v1h-1zM259 247h1v1h-1zM260 246h1v1h-1zM261 245h1v1h-1zM262 244h1v1h-1zM263 243h1v1h-1zM264 243h1v1h-1zM265 242h1v1h-1zM266 241h1v1h-1zM267 240h1v1h-1zM268 240h1v1h-1zM269 239h1v1h-1zM270 238h1v1h-1zM271 238h1v1h-1zM272 237h1v1h-1zM273 237h1v1h-1zM274 236h1v1h-1zM275 236h1v1h-1zM276 235h1v1h-1zM277 235h1v1h-1zM278 233h1v2h-1zM279 231h1v2h-1zM280 229h1v2h-1zM281 228h1v1h-1zM282 226h1v2h-1zM283 225h1v1h-1zM284 223h1v2h-1zM285 222h1v1h-1zM286 221h1v1h-1zM287 219h1v2h-1zM288 218h1v1h-1zM289 217h1v1h-1zM290 216h1v1h-1zM291 215h1v1h-1zM292 215h1v1h-1zM293 214h1v1h-1zM294 213h1v1h-1zM295 212h1v1h-1zM296 212h1v1h-1zM297 211h1v1h-1zM298 210h1v1h-1zM299 208h1v2h-1zM300 207h1v1h-1zM301 206h1v1h-1zM302 205h1v1h-1zM303 204h1v1h-1zM304 204h1v1h-1zM305 203h1v1h-1zM306 202h1v1h-1zM307 202h1v1h-1zM308 201h1v1h-1zM309 201h1v1h-1zM310 201h1v1h-1zM311 202h1v1h-1zM312 202h1v1h-1zM313 202h1v1h-1zM314 201h1v1h-1zM315 200h1v1h-1zM316 200h1v1h-1zM317 199h1v1h-1zM318 198h1v1h-1zM319 198h1v1h-1zM320 197h1v1h-1zM321 197h1v1h-1zM322 196h1v1h-1zM323 196h1v1h-1zM324 195h1v1h-1zM325 195h1v1h-1zM326 194h1v1h-1zM327 193h1v1h-1zM328 193h1v1h-1zM329 192h1v1h-1zM330 191h1v1h-1zM331 190h1v1h-1zM332 190h1v1h-1zM333 189h1v1h-1zM334 189h1v1h-1zM335 190h1v1h-1zM336 190h1v1h-1zM337 190h1v1h-1zM338 190h1v1h-1zM339 190h1v1h-1zM340 190h1v1h-1zM341 190h1v1h-1zM342 189h1v1h-1zM343 189h1v1h-1zM344 188h1v1h-1zM345 188h1v1h-1zM346 187h1v1h-1zM347 187h1v1h-1zM348 186h1v1h-1zM349 186h1v1h-1zM350 187h1v1h-1zM351 187h1v1h-1zM352 188h1v1h-1zM353 188h1v1h-1zM354 189h1v1h-1zM355 190h1v1h-1zM356 191h1v1h-1zM357 192h1v1h-1zM358 193h1v1h-1zM359 194h1v1h-1zM360 195h1v1h-1zM361 196h1v1h-1zM362 197h1v1h-1zM363 198h1v2h-1zM364 200h1v1h-1zM365 201h1v1h-1zM366 202h1v2h-1zM367 204h1v2h-1zM368 206h1v2h-1zM369 208h1v1h-1zM370 209h1v2h-1zM371 211h1v1h-1zM372 212h1v2h-1zM373 214h1v1h-1zM374 215h1v1h-1zM375 216h1v1h-1zM376 216h1v1h-1zM377 217h1v1h-1zM378 218h1v1h-1zM379 219h1v1h-1zM380 219h1v1h-1zM381 220h1v1h-1zM382 220h1v1h-1zM383 221h1v1h-1zM384 221h1v1h-1zM385 221h1v1h-1zM386 221h1v1h-1zM387 222h1v1h-1zM388 222h1v1h-1zM389 222h1v1h-1zM390 223h1v1h-1zM391 223h1v1h-1zM392 224h1v1h-1zM393 224h1v1h-1zM394 225h1v1h-1zM395 226h1v1h-1zM396 226h1v1h-1zM397 227h1v1h-1zM398 227h1v1h-1zM399 228h1v1h-1zM400 228h1v1h-1zM401 228h1v1h-1zM402 229h1v1h-1zM403 230h1v1h-1zM404 230h1v1h-1zM405 231h1v1h-1zM406 231h1v1h-1zM407 231h1v1h-1zM408 231h1v1h-1zM409 231h1v1h-1zM410 230h1v1h-1zM411 230h1v1h-1zM412 229h1v1h-1zM413 229h1v1h-1zM414 228h1v1h-1zM415 227h1v1h-1zM416 226h1v1h-1zM417 225h1v1h-1zM418 224h1v1h-1zM419 223h1v1h-1zM420 223h1v1h-1zM421 222h1v1h-1zM422 220h1v2h-1zM423 219h1v1h-1zM424 217h1v2h-1zM425 216h1v1h-1zM426 215h1v1h-1zM427 213h1v2h-1zM428 212h1v1h-1zM429 211h1v1h-1zM430 210h1v1h-1zM431 210h1v1h-1zM432 209h1v1h-1zM433 209h1v1h-1zM434 209h1v1h-1zM435 208h1v1h-1zM436 208h1v1h-1zM437 208h1v1h-1zM438 208h1v1h-1zM439 209h1v1h-1zM440 209h1v1h-1zM441 209h1v1h-1zM442 210h1v1h-1zM443 210h1v1h-1zM444 211h1v1h-1zM445 211h1v1h-1zM446 210h1v1h-1zM447 209h1v1h-1zM448 209h1v1h-1zM449 208h1v1h-1zM450 207h1v1h-1zM451 206h1v1h-1zM452 206h1v1h-1zM453 205h1v1h-1zM454 204h1v1h-1zM455 204h1v1h-1zM456 203h1v1h-1zM457 203h1v1h-1zM458 202h1v1h-1zM459 201h1v1h-1zM460 201h1v1h-1zM461 200h1v1h-1zM462 200h1v1h-1zM463 199h1v1h-1zM464 199h1v1h-1zM465 199h1v1h-1zM466 198h1v1h-1zM467 198h1v1h-1zM468 197h1v1h-1zM469 197h1v1h-1zM470 196h1v1h-1zM471 195h1v1h-1zM472 195h1v1h-1zM473 194h1v1h-1zM474 194h1v1h-1zM475 193h1v1h-1zM476 193h1v1h-1zM477 193h1v1h-1zM478 194h1v1h-1zM479 195h1v1h-1zM480 196h1v1h-1zM481 197h1v1h-1zM482 198h1v1h-1zM483 199h1v1h-1zM484 200h1v1h-1zM485 201h1v1h-1zM486 201h1v1h-1zM487 202h1v1h-1zM488 202h1v1h-1zM489 202h1v1h-1zM490 203h1v1h-1zM491 203h1v1h-1zM492 204h1v1h-1zM493 204h1v1h-1zM494 205h1v1h-1zM495 205h1v1h-1zM496 206h1v1h-1zM497 206h1v1h-1zM498 207h1v1h-1zM499 208h1v1h-1zM500 209h1v1h-1zM501 210h1v1h-1zM502 211h1v2h-1zM503 213h1v2h-1zM504 215h1v2h-1zM505 217h1v1h-1zM506 218h1v2h-1zM507 220h1v2h-1zM508 222h1v2h-1zM509 224h1v3h-1zM510 227h1v2h-1zM511 229h1v2h-1zM512 231h1v2h-1zM513 233h1v3h-1zM514 236h1v2h-1zM515 238h1v3h-1zM516 241h1v2h-1zM517 243h1v3h-1zM518 246h1v2h-1zM519 248h1v2h-1zM520 250h1v2h-1zM521 252h1v3h-1zM522 255h1v2h-1zM523 257h1v3h-1zM524 260h1v2h-1zM525 262h1v3h-1zM526 265h1v2h-1zM527 267h1v3h-1zM528 270h1v2h-1zM529 272h1v3h-1zM530 275h1v2h-1zM531 277h1v2h-1zM532 279h1v2h-1zM533 281h1v2h-1zM534 283h1v1h-1zM535 284h1v1h-1zM536 285h1v1h-1zM537 286h1v1h-1zM538 287h1v1h-1zM539 288h1v2h-1zM540 290h1v1h-1zM541 291h1v1h-1zM542 292h1v1h-1zM543 292h1v1h-1zM544 293h1v1h-1zM545 293h1v1h-1zM546 294h1v1h-1zM547 294h1v1h-1zM548 295h1v1h-1zM549 295h1v1h-1zM550 295h1v1h-1zM551 296h1v1h-1zM552 296h1v1h-1zM553 296h1v1h-1zM554 296h1v1h-1zM555 296h1v1h-1zM556 296h1v1h-1zM557 296h1v1h-1zM558 296h1v1h-1zM559 296h1v1h-1zM560 296h1v1h-1zM561 296h1v1h-1zM562 295h1v1h-1zM563 295h1v1h-1zM564 294h1v1h-1zM565 294h1v1h-1zM566 293h1v1h-1zM567 292h1v1h-1zM568 292h1v1h-1zM569 291h1v1h-1zM570 290h1v1h-1zM571 289h1v1h-1zM572 288h1v1h-1zM573 287h1v1h-1zM574 286h1v1h-1zM575 284h1v2h-1zM576 283h1v1h-1zM577 282h1v1h-1zM578 280h1v2h-1zM579 279h1v1h-1zM580 277h1v2h-1zM581 276h1v1h-1zM582 274h1v2h-1zM583 273h1v1h-1zM584 271h1v2h-1zM585 270h1v1h-1zM586 268h1v2h-1zM587 266h1v2h-1zM588 264h1v2h-1zM589 263h1v1h-1zM590 261h1v2h-1zM591 259h1v2h-1zM592 257h1v2h-1zM593 256h1v1h-1zM594 254h1v2h-1zM595 252h1v2h-1zM596 250h1v2h-1zM597 249h1v1h-1zM598 249h1v1h-1zM599 248h1v1h-1zM600 248h1v1h-1zM601 248h1v1h-1zM602 247h1v1h-1zM603 246h1v1h-1zM604 245h1v1h-1zM605 244h1v1h-1zM606 243h1v1h-1zM607 242h1v1h-1zM608 242h1v1h-1zM609 241h1v1h-1zM610 240h1v1h-1zM611 239h1v1h-1zM612 239h1v1h-1zM613 238h1v1h-1zM614 236h1v2h-1zM615 235h1v1h-1zM616 233h1v2h-1zM617 232h1v1h-1zM618 231h1v1h-1zM619 229h1v2h-1zM620 228h1v1h-1zM621 227h1v1h-1zM622 226h1v1h-1zM623 225h1v1h-1zM624 224h1v1h-1zM625 223h1v1h-1zM626 222h1v1h-1zM627 220h1v2h-1zM628 219h1v1h-1zM629 218h1v1h-1zM630 217h1v1h-1zM631 216h1v1h-1zM632 215h1v1h-1zM633 214h1v1h-1zM634 213h1v1h-1zM635 213h1v1h-1zM636 212h1v1h-1zM637 212h1v1h-1zM638 211h1v1h-1zM639 210h1v1h-1zM640 210h1v1h-1zM641 209h1v1h-1zM642 208h1v1h-1zM643 208h1v1h-1zM644 207h1v1h-1zM645 207h1v1h-1zM646 206h1v1h-1zM647 206h1v1h-1zM648 205h1v1h-1zM649 205h1v1h-1zM650 205h1v1h-1zM651 204h1v1h-1zM652 204h1v1h-1zM653 204h1v1h-1zM654 203h1v1h-1zM655 202h1v1h-1zM656 202h1v1h-1zM657 201h1v1h-1zM658 200h1v1h-1zM659 199h1v1h-1zM660 199h1v1h-1zM661 198h1v1h-1zM662 198h1v1h-1zM663 198h1v1h-1zM664 198h1v1h-1zM665 198h1v1h-1zM666 198h1v1h-1zM667 199h1v1h-1zM668 199h1v1h-1zM669 199h1v1h-1zM670 199h1v1h-1zM671 200h1v1h-1zM672 200h1v1h-1zM673 200h1v1h-1zM674 200h1v1h-1zM675 201h1v1h-1zM676 201h1v1h-1zM677 201h1v1h-1zM678 202h1v1h-1zM679 203h1v1h-1zM680 203h1v1h-1zM681 204h1v1h-1zM682 205h1v1h-1zM683 205h1v1h-1zM684 206h1v1h-1zM685 206h1v1h-1zM686 207h1v1h-1zM687 208h1v1h-1zM688 209h1v1h-1zM689 210h1v1h-1zM690 211h1v1h-1zM691 212h1v1h-1zM692 213h1v1h-1zM693 214h1v1h-1zM694 215h1v1h-1zM695 216h1v1h-1zM696 216h1v1h-1zM697 217h1v1h-1zM698 218h1v1h-1zM699 219h1v2h-1zM700 221h1v1h-1zM701 222h1v1h-1zM702 223h1v1h-1zM703 224h1v2h-1zM704 226h1v1h-1zM705 227h1v1h-1zM706 228h1v1h-1zM707 229h1v2h-1zM708 231h1v1h-1zM709 232h1v1h-1zM710 233h1v2h-1zM711 235h1v2h-1zM712 237h1v2h-1zM713 239h1v2h-1zM714 241h1v2h-1zM715 243h1v1h-1zM716 244h1v2h-1zM717 246h1v1h-1zM718 247h1v1h-1zM719 248h1v1h-1zM720 248h1v1h-1zM721 249h1v1h-1zM722 249h1v1h-1zM723 249h1v1h-1zM724 249h1v1h-1zM725 249h1v1h-1zM726 250h1v1h-1zM727 251h1v1h-1zM728 252h1v1h-1zM729 253h1v1h-1zM730 254h1v1h-1zM731 255h1v1h-1zM732 256h1v1h-1zM733 257h1v1h-1zM734 258h1v1h-1zM735 259h1v1h-1zM736 259h1v1h-1zM737 260h1v1h-1zM738 261h1v1h-1zM739 262h1v1h-1zM740 263h1v1h-1zM741 264h1v1h-1zM742 265h1v1h-1zM743 266h1v2h-1zM744 268h1v1h-1zM745 269h1v1h-1zM746 270h1v1h-1zM747 271h1v2h-1zM748 273h1v1h-1zM749 274h1v1h-1zM750 275h1v2h-1zM751 277h1v1h-1zM752 278h1v2h-1zM753 280h1v1h-1zM754 281h1v2h-1zM755 283h1v2h-1zM756 285h1v2h-1zM757 287h1v2h-1zM758 289h1v2h-1zM759 291h1v2h-1zM760 293h1v2h-1zM761 295h1v1h-1zM762 296h1v2h-1zM763 298h1v2h-1zM764 300h1v2h-1zM765 302h1v1h-1zM766 303h1v1h-1zM767 304h1v2h-1zM768 306h1v1h-1zM769 307h1v1h-1zM770 308h1v2h-1zM771 310h1v1h-1zM772 311h1v2h-1zM773 313h1v1h-1zM774 314h1v2h-1zM775 316h1v2h-1zM776 318h1v2h-1zM777 320h1v2h-1zM778 322h1v2h-1zM779 324h1v1h-1zM780 325h1v2h-1zM781 327h1v1h-1zM782 328h1v2h-1zM783 330h1v1h-1zM784 331h1v2h-1zM785 333h1v1h-1zM786 334h1v1h-1zM787 334h1v1h-1zM788 335h1v1h-1zM789 335h1v1h-1zM790 336h1v1h-1zM791 337h1v1h-1zM792 338h1v1h-1zM793 339h1v1h-1zM794 340h1v1h-1zM795 341h1v1h-1zM796 341h1v1h-1zM797 342h1v1h-1zM798 342h1v1h-1zM799 343h1v1h-1zM800 343h1v1h-1zM801 343h1v1h-1zM802 343h1v1h-1zM803 343h1v1h-1zM804 343h1v1h-1zM805 343h1v1h-1zM806 343h1v1h-1zM807 344h1v1h-1zM808 344h1v1h-1zM809 344h1v1h-1zM810 343h1v1h-1zM811 342h1v1h-1zM812 342h1v1h-1zM813 341h1v1h-1zM814 340h1v1h-1zM815 339h1v1h-1zM816 339h1v1h-1zM817 338h1v1h-1zM818 337h1v1h-1zM819 336h1v1h-1zM820 335h1v1h-1zM821 334h1v1h-1zM822 333h1v1h-1zM823 332h1v1h-1zM824 332h1v1h-1zM825 331h1v1h-1zM826 330h1v1h-1zM827 329h1v1h-1zM828 329h1v1h-1zM829 328h1v1h-1zM830 326h1v2h-1zM831 325h1v1h-1zM832 323h1v2h-1zM833 322h1v1h-1zM834 321h1v1h-1zM835 319h1v2h-1zM836 318h1v1h-1zM837 317h1v1h-1zM838 316h1v1h-1zM839 315h1v1h-1zM840 314h1v1h-1zM841 313h1v1h-1zM842 312h1v1h-1zM843 312h1v1h-1zM844 311h1v1h-1zM845 311h1v1h-1zM846 310h1v1h-1zM847 308h1v2h-1zM848 307h1v1h-1zM849 306h1v1h-1zM850 305h1v1h-1zM851 303h1v2h-1zM852 302h1v1h-1zM853 301h1v1h-1zM854 299h1v2h-1zM855 298h1v1h-1zM856 296h1v2h-1zM857 295h1v1h-1zM858 293h1v2h-1zM859 292h1v1h-1zM860 290h1v2h-1zM861 289h1v1h-1zM862 287h1v2h-1zM863 285h1v2h-1zM864 283h1v2h-1zM865 282h1v1h-1zM866 280h1v2h-1zM867 278h1v2h-1zM868 276h1v2h-1zM869 274h1v2h-1zM870 272h1v2h-1zM871 270h1v2h-1zM872 268h1v2h-1zM873 265h1v3h-1zM874 263h1v2h-1zM875 261h1v2h-1zM876 259h1v2h-1zM877 257h1v2h-1z" fill="#FF0000" shape-rendering="crispEdges"/>
<path d="M5 104h1v1h-1zM6 104h1v1h-1zM7 105h1v1h-1zM8 105h1v1h-1zM9 105h1v1h-1zM10 105h1v1h-1zM11 104h1v1h-1zM12 104h1v1h-1zM13 104h1v1h-1zM14 103h1v1h-1zM15 103h1v1h-1zM16 102h1v1h-1zM17 102h1v1h-1zM18 101h1v1h-1zM19 100h1v1h-1zM20 100h1v1h-1zM21 99h1v1h-1zM22 99h1v1h-1zM23 98h1v1h-1zM24 98h1v1h-1zM25 98h1v1h-1zM26 97h1v1h-1zM27 97h1v1h-1zM28 96h1v1h-1zM29 96h1v1h-1zM30 96h1v1h-1zM31 97h1v1h-1zM32 97h1v1h-1zM33 97h1v1h-1zM34 97h1v1h-1zM35 98h1v1h-1zM36 98h1v1h-1zM37 98h1v1h-1zM38 98h1v1h-1zM39 98h1v1h-1zM40 98h1v1h-1zM41 98h1v1h-1zM42 99h1v1h-1zM43 99h1v1h-1zM44 100h1v1h-1zM45 100h1v1h-1zM46 101h1v1h-1zM47 102h1v2h-1zM48 104h1v1h-1zM49 105h1v1h-1zM50 106h1v1h-1zM51 107h1v2h-1zM52 109h1v1h-1zM53 110h1v1h-1zM54 111h1v1h-1zM55 112h1v1h-1zM56 113h1v1h-1zM57 114h1v1h-1zM58 115h1v2h-1zM59 117h1v1h-1zM60 118h1v2h-1zM61 120h1v1h-1zM62 121h1v1h-1zM63 122h1v1h-1zM64 123h1v1h-1zM65 124h1v1h-1zM66 124h1v1h-1zM67 125h1v1h-1zM68 125h1v1h-1zM69 125h1v1h-1zM70 125h1v1h-1zM71 126h1v1h-1zM72 126h1v1h-1zM73 126h1v1h-1zM74 126h1v1h-1zM75 127h1v1h-1zM76 127h1v1h-1zM77 127h1v1h-1zM78 127h1v1h-1zM79 128h1v1h-1zM80 128h1v1h-1zM81 128h1v1h-1zM82 129h1v1h-1zM83 129h1v1h-1zM84 130h1v1h-1zM85 130h1v1h-1zM86 131h1v1h-1zM87 131h1v1h-1zM88 132h1v1h-1zM89 132h1v1h-1zM90 133h1v2h-1zM91 135h1v1h-1zM92 136h1v2h-1zM93 138h1v1h-1zM94 139h1v2h-1zM95 141h1v2h-1zM96 143h1v2h-1zM97 145h1v2h-1zM98 147h1v2h-1zM99 149h1v2h-1zM100 151h1v2h-1zM101 153h1v2h-1zM102 155h1v2h-1zM103 157h1v2h-1zM104 159h1v2h-1zM105 161h1v3h-1zM106 164h1v2h-1zM107 166h1v3h-1zM108 169h1v2h-1zM109 171h1v3h-1zM110 174h1v3h-1zM111 177h1v2h-1zM112 179h1v3h-1zM113 182h1v3h-1zM114 185h1v2h-1zM115 187h1v2h-1zM116 189h1v2h-1zM117 191h1v3h-1zM118 194h1v2h-1zM119 196h1v2h-1zM120 198h1v2h-1zM121 200h1v3h-1zM122 203h1v2h-1zM123 205h1v2h-1zM124 207h1v2h-1zM125 209h1v2h-1zM126 211h1v2h-1zM127 213h1v1h-1zM128 214h1v2h-1zM129 216h1v1h-1zM130 217h1v1h-1zM131 218h1v2h-1zM132 220h1v1h-1zM133 221h1v1h-1zM134 222h1v1h-1zM135 223h1v2h-1zM136 225h1v1h-1zM137 226h1v1h-1zM138 227h1v2h-1zM139 229h1v1h-1zM140 230h1v2h-1zM141 232h1v1h-1zM142 233h1v1h-1zM143 234h1v2h-1zM144 236h1v1h-1zM145 237h1v1h-1zM146 238h1v1h-1zM147 239h1v2h-1zM148 241h1v1h-1zM149 242h1v1h-1zM150 243h1v2h-1zM151 245h1v2h-1zM152 247h1v2h-1zM153 249h1v1h-1zM154 250h1v2h-1zM155 252h1v2h-1zM156 254h1v2h-1zM157 256h1v1h-1zM158 257h1v2h-1zM159 259h1v2h-1zM160 261h1v2h-1zM161 263h1v3h-1zM162 266h1v2h-1zM163 268h1v2h-1zM164 270h1v2h-1zM165 272h1v3h-1zM166 275h1v2h-1zM167 277h1v3h-1zM168 280h1v2h-1zM169 282h1v2h-1zM170 284h1v2h-1zM171 286h1v2h-1zM172 288h1v2h-1zM173 290h1v2h-1zM174 292h1v1h-1zM175 293h1v2h-1zM176 295h1v1h-1zM177 296h1v1h-1zM178 297h1v1h-1zM179 298h1v2h-1zM180 300h1v1h-1zM181 301h1v1h-1zM182 302h1v1h-1zM183 303h1v1h-1zM184 304h1v1h-1zM185 305h1v1h-1zM186 306h1v1h-1zM187 307h1v1h-1zM188 307h1v1h-1zM189 308h1v1h-1zM190 309h1v1h-1zM191 309h1v1h-1zM192 310h1v1h-1zM193 310h1v1h-1zM194 310h1v1h-1zM195 311h1v1h-1zM196 311h1v1h-1zM197 311h1v1h-1zM198 311h1v1h-1zM199 311h1v1h-1zM200 311h1v1h-1zM201 311h1v1h-1zM202 311h1v1h-1zM203 310h1v1h-1zM204 310h1v1h-1zM205 310h1v1h-1zM206 310h1v1h-1zM207 309h1v1h-1zM208 309h1v1h-1zM209 309h1v1h-1zM210 309h1v1h-1zM211 308h1v1h-1zM212 308h1v1h-1zM213 308h1v1h-1zM214 307h1v1h-1zM215 307h1v1h-1zM216 306h1v1h-1zM217 306h1v1h-1zM218 305h1v1h-1zM219 305h1v1h-1zM220 304h1v1h-1zM221 304h1v1h-1zM222 303h1v1h-1zM223 302h1v1h-1zM224 302h1v1h-1zM225 301h1v1h-1zM226 300h1v1h-1zM227 300h1v1h-1zM228 299h1v1h-1zM229 299h1v1h-1zM230 299h1v1h-1zM231 298h1v1h-1zM232 298h1v1h-1zM233 298h1v1h-1zM234 297h1v1h-1zM235 296h1v1h-1zM236 296h1v1h-1zM237 295h1v1h-1zM238 294h1v1h-1zM239 293h1v1h-1zM240 293h1v1h-1zM241 292h1v1h-1zM242 291h1v1h-1zM243 290h1v1h-1zM244 290h1v1h-1zM245 289h1v1h-1zM246 288h1v1h-1zM247 287h1v1h-1zM248 287h1v1h-1zM249 286h1v1h-1zM250 284h1v2h-1zM251 283h1v1h-1zM252 281h1v2h-1zM253 280h1v1h-1zM254 278h1v2h-1zM255 276h1v2h-1zM256 274h1v2h-1zM257 272h1v2h-1zM258 271h1v1h-1zM259 269h1v2h-1zM260 268h1v1h-1zM261 267h1v1h-1zM262 266h1v1h-1zM263 264h1v2h-1zM264 263h1v1h-1zM265 262h1v1h-1zM266 261h1v1h-1zM267 259h1v2h-1zM268 258h1v1h-1zM269 257h1v1h-1zM270 256h1v1h-1zM271 255h1v1h-1zM272 255h1v1h-1zM273 254h1v1h-1zM274 253h1v1h-1zM275 252h1v1h-1zM276 251h1v1h-1zM277 250h1v1h-1zM278 248h1v2h-1zM279 246h1v2h-1zM280 244h1v2h-1zM281 243h1v1h-1zM282 241h1v2h-1zM283 240h1v1h-1zM284 238h1v2h-1zM285 237h1v1h-1zM286 236h1v1h-1zM287 235h1v1h-1zM288 235h1v1h-1zM289 234h1v1h-1zM290 233h1v1h-1zM291 232h1v1h-1zM292 231h1v1h-1zM293 230h1v1h-1zM294 229h1v1h-1zM295 228h1v1h-1zM296 227h1v1h-1zM297 226h1v1h-1zM298 225h1v1h-1zM299 224h1v1h-1zM300 223h1v1h-1zM301 222h1v1h-1zM302 221h1v1h-1zM303 220h1v1h-1zM304 220h1v1h-1zM305 219h1v1h-1zM306 218h1v1h-1zM307 217h1v1h-1zM308 216h1v1h-1zM309 215h1v1h-1zM310 214h1v1h-1zM311 213h1v1h-1zM312 212h1v1h-1zM313 211h1v1h-1zM314 210h1v1h-1zM315 209h1v1h-1zM316 208h1v1h-1zM317 207h1v1h-1zM318 206h1v1h-1zM319 206h1v1h-1zM320 205h1v1h-1zM321 205h1v1h-1zM322 205h1v1h-1zM323 204h1v1h-1zM324 204h1v1h-1zM325 204h1v1h-1zM326 203h1v1h-1zM327 202h1v1h-1zM328 202h1v1h-1zM329 201h1v1h-1zM330 200h1v1h-1zM331 200h1v1h-1zM332 199h1v1h-1zM333 199h1v1h-1zM334 199h1v1h-1zM335 198h1v1h-1zM336 198h1v1h-1zM337 198h1v1h-1zM338 198h1v1h-1zM339 198h1v1h-1zM340 198h1v1h-1zM341 198h1v1h-1zM342 197h1v1h-1zM343 197h1v1h-1zM344 196h1v1h-1zM345 196h1v1h-1zM346 195h1v1h-1zM347 194h1v1h-1zM348 194h1v1h-1zM349 193h1v1h-1zM350 193h1v1h-1zM351 192h1v1h-1zM352 192h1v1h-1zM353 192h1v1h-1zM354 192h1v1h-1zM355 192h1v1h-1zM356 192h1v1h-1zM357 192h1v1h-1zM358 192h1v1h-1zM359 193h1v1h-1zM360 193h1v1h-1zM361 193h1v1h-1zM362 194h1v1h-1zM363 195h1v1h-1zM364 196h1v1h-1zM365 197h1v1h-1zM366 198h1v1h-1zM367 199h1v2h-1zM368 201h1v1h-1zM369 202h1v1h-1zM370 203h1v1h-1zM371 204h1v1h-1zM372 205h1v1h-1zM373 206h1v1h-1zM374 206h1v1h-1zM375 207h1v1h-1zM376 207h1v1h-1zM377 207h1v1h-1zM378 208h1v1h-1zM379 209h1v1h-1zM380 209h1v1h-1zM381 210h1v1h-1zM382 211h1v1h-1zM383 211h1v1h-1zM384 212h1v1h-1zM385 212h1v1h-1zM386 212h1v1h-1zM387 211h1v1h-1zM388 211h1v1h-1zM389 211h1v1h-1zM390 212h1v1h-1zM391 212h1v1h-1zM392 213h1v1h-1zM393 213h1v1h-1zM394 214h1v1h-1zM395 214h1v1h-1zM396 215h1v1h-1zM397 215h1v1h-1zM398 215h1v1h-1zM399 215h1v1h-1zM400 215h1v1h-1zM401 215h1v1h-1zM402 215h1v1h-1zM403 216h1v1h-1zM404 216h1v1h-1zM405 216h1v1h-1zM406 216h1v1h-1zM407 216h1v1h-1zM408 216h1v1h-1zM409 216h1v1h-1zM410 216h1v1h-1zM411 216h1v1h-1zM412 216h1v1h-1zM413 216h1v1h-1zM414 216h1v1h-1zM415 217h1v1h-1zM416 217h1v1h-1zM417 217h1v1h-1zM418 217h1v1h-1zM419 218h1v1h-1zM420 218h1v1h-1zM421 218h1v1h-1zM422 218h1v1h-1zM423 219h1v1h-1zM424 219h1v1h-1zM425 219h1v1h-1zM426 220h1v1h-1zM427 220h1v1h-1zM428 221h1v1h-1zM429 221h1v1h-1zM430 222h1v1h-1zM431 222h1v1h-1zM432 223h1v1h-1zM433 223h1v1h-1zM434 223h1v1h-1zM435 223h1v1h-1zM436 223h1v1h-1zM437 223h1v1h-1zM438 223h1v1h-1zM439 223h1v1h-1zM440 223h1v1h-1zM441 223h1v1h-1zM442 222h1v1h-1zM443 222h1v1h-1zM444 221h1v1h-1zM445 221h1v1h-1zM446 220h1v1h-1zM447 219h1v1h-1zM448 218h1v1h-1zM449 217h1v1h-1zM450 216h1v1h-1zM451 215h1v1h-1zM452 214h1v1h-1zM453 213h1v1h-1zM454 211h1v2h-1zM455 210h1v1h-1zM456 208h1v2h-1zM457 207h1v1h-1zM458 206h1v1h-1zM459 205h1v1h-1zM460 205h1v1h-1zM461 204h1v1h-1zM462 203h1v1h-1zM463 203h1v1h-1zM464 202h1v1h-1zM465 202h1v1h-1zM466 201h1v1h-1zM467 201h1v1h-1zM468 200h1v1h-1zM469 200h1v1h-1zM470 200h1v1h-1zM471 199h1v1h-1zM472 199h1v1h-1zM473 199h1v1h-1zM474 199h1v1h-1zM475 198h1v1h-1zM476 198h1v1h-1zM477 198h1v1h-1zM478 199h1v1h-1zM479 199h1v1h-1zM480 200h1v1h-1zM481 200h1v1h-1zM482 201h1v1h-1zM483 201h1v1h-1zM484 202h1v1h-1zM485 202h1v1h-1zM486 202h1v1h-1zM487 203h1v1h-1zM488 203h1v1h-1zM489 203h1v1h-1zM490 204h1v1h-1zM491 204h1v1h-1zM492 205h1v1h-1zM493 205h1v1h-1zM494 206h1v1h-1zM495 206h1v1h-1zM496 207h1v1h-1zM497 207h1v1h-1zM498 208h1v1h-1zM499 209h1v1h-1zM500 210h1v1h-1zM501 211h1v1h-1zM502 212h1v1h-1zM503 213h1v1h-1zM504 213h1v1h-1zM505 214h1v1h-1zM506 215h1v1h-1zM507 216h1v1h-1zM508 217h1v1h-1zM509 218h1v1h-1zM510 219h1v1h-1zM511 220h1v2h-1zM512 222h1v1h-1zM513 223h1v1h-1zM514 224h1v1h-1zM515 225h1v1h-1zM516 226h1v1h-1zM517 227h1v1h-1zM518 228h1v1h-1zM519 229h1v2h-1zM520 231h1v1h-1zM521 232h1v1h-1zM522 233h1v1h-1zM523 234h1v1h-1zM524 235h1v1h-1zM525 236h1v1h-1zM526 237h1v1h-1zM527 238h1v2h-1zM528 240h1v1h-1zM529 241h1v1h-1zM530 242h1v2h-1zM531 244h1v1h-1zM532 245h1v2h-1zM533 247h1v1h-1zM534 248h1v2h-1zM535 250h1v2h-1zM536 252h1v2h-1zM537 254h1v1h-1zM538 255h1v2h-1zM539 257h1v2h-1zM540 259h1v2h-1zM541 261h1v1h-1zM542 262h1v1h-1zM543 263h1v1h-1zM544 264h1v1h-1zM545 265h1v1h-1zM546 266h1v1h-1zM547 267h1v1h-1zM548 268h1v1h-1zM549 269h1v1h-1zM550 270h1v1h-1zM551 271h1v2h-1zM552 273h1v1h-1zM553 274h1v1h-1zM554 275h1v1h-1zM555 276h1v2h-1zM556 278h1v1h-1zM557 279h1v1h-1zM558 280h1v1h-1zM559 281h1v1h-1zM560 281h1v1h-1zM561 282h1v1h-1zM562 282h1v1h-1zM563 283h1v1h-1zM564 283h1v1h-1zM565 283h1v1h-1zM566 283h1v1h-1zM567 283h1v1h-1zM568 283h1v1h-1zM569 283h1v1h-1zM570 283h1v1h-1zM571 284h1v1h-1zM572 284h1v1h-1zM573 284h1v1h-1zM574 284h1v1h-1zM575 284h1v1h-1zM576 284h1v1h-1zM577 284h1v1h-1zM578 284h1v1h-1zM579 283h1v1h-1zM580 283h1v1h-1zM581 283h1v1h-1zM582 282h1v1h-1zM583 282h1v1h-1zM584 281h1v1h-1zM585 281h1v1h-1zM586 280h1v1h-1zM587 279h1v1h-1zM588 279h1v1h-1zM589 278h1v1h-1zM590 277h1v1h-1zM591 276h1v1h-1zM592 276h1v1h-1zM593 275h1v1h-1zM594 274h1v1h-1zM595 273h1v1h-1zM596 272h1v1h-1zM597 271h1v1h-1zM598 270h1v1h-1zM599 269h1v1h-1zM600 268h1v1h-1zM601 267h1v1h-1zM602 266h1v1h-1zM603 265h1v1h-1zM604 264h1v1h-1zM605 263h1v1h-1zM606 262h1v1h-1zM607 261h1v1h-1zM608 261h1v1h-1zM609 260h1v1h-1zM610 259h1v1h-1zM611 257h1v2h-1zM612 256h1v1h-1zM613 255h1v1h-1zM614 253h1v2h-1zM615 252h1v1h-1zM616 250h1v2h-1zM617 249h1v1h-1zM618 248h1v1h-1zM619 246h1v2h-1zM620 245h1v1h-1zM621 244h1v1h-1zM622 242h1v2h-1zM623 241h1v1h-1zM624 239h1v2h-1zM625 238h1v1h-1zM626 237h1v1h-1zM627 236h1v1h-1zM628 236h1v1h-1zM629 235h1v1h-1zM630 234h1v1h-1zM631 232h1v2h-1zM632 231h1v1h-1zM633 230h1v1h-1zM634 229h1v1h-1zM635 228h1v1h-1zM636 228h1v1h-1zM637 227h1v1h-1zM638 226h1v1h-1zM639 225h1v1h-1zM640 224h1v1h-1zM641 223h1v1h-1zM642 222h1v1h-1zM643 221h1v1h-1zM644 220h1v1h-1zM645 219h1v1h-1zM646 218h1v1h-1zM647 217h1v1h-1zM648 217h1v1h-1zM649 216h1v1h-1zM650 215h1v1h-1zM651 214h1v1h-1zM652 214h1v1h-1zM653 213h1v1h-1zM654 212h1v1h-1zM655 211h1v1h-1zM656 211h1v1h-1zM657 210h1v1h-1zM658 209h1v1h-1zM659 208h1v1h-1zM660 208h1v1h-1zM661 207h1v1h-1zM662 207h1v1h-1zM663 207h1v1h-1zM664 207h1v1h-1zM665 207h1v1h-1zM666 207h1v1h-1zM667 208h1v1h-1zM668 208h1v1h-1zM669 208h1v1h-1zM670 208h1v1h-1zM671 207h1v1h-1zM672 207h1v1h-1zM673 207h1v1h-1zM674 207h1v1h-1zM675 207h1v1h-1zM676 207h1v1h-1zM677 207h1v1h-1zM678 207h1v1h-1zM679 208h1v1h-1zM680 208h1v1h-1zM681 208h1v1h-1zM682 208h1v1h-1zM683 207h1v1h-1zM684 207h1v1h-1zM685 207h1v1h-1zM686 207h1v1h-1zM687 208h1v1h-1zM688 208h1v1h-1zM689 208h1v1h-1zM690 208h1v1h-1zM691 208h1v1h-1zM692 208h1v1h-1zM693 208h1v1h-1zM694 208h1v1h-1zM695 209h1v1h-1zM696 209h1v1h-1zM697 209h1v1h-1zM698 210h1v1h-1zM699 211h1v1h-1zM700 211h1v1h-1zM701 212h1v1h-1zM702 213h1v1h-1zM703 214h1v1h-1zM704 214h1v1h-1zM705 215h1v1h-1zM706 216h1v1h-1zM707 217h1v1h-1zM708 218h1v1h-1zM709 219h1v1h-1zM710 220h1v1h-1zM711 221h1v2h-1zM712 223h1v1h-1zM713 224h1v1h-1zM714 225h1v1h-1zM715 226h1v2h-1zM716 228h1v1h-1zM717 229h1v1h-1zM718 230h1v1h-1zM719 231h1v1h-1zM720 231h1v1h-1zM721 232h1v1h-1zM722 233h1v1h-1zM723 234h1v1h-1zM724 234h1v1h-1zM725 235h1v1h-1zM726 236h1v1h-1zM727 237h1v1h-1zM728 237h1v1h-1zM729 238h1v1h-1zM730 239h1v1h-1zM731 240h1v1h-1zM732 240h1v1h-1zM733 241h1v1h-1zM734 242h1v1h-1zM735 243h1v1h-1zM736 243h1v1h-1zM737 244h1v1h-1zM738 245h1v1h-1zM739 246h1v2h-1zM740 248h1v1h-1zM741 249h1v1h-1zM742 250h1v2h-1zM743 252h1v1h-1zM744 253h1v2h-1zM745 255h1v1h-1zM746 256h1v1h-1zM747 257h1v1h-1zM748 258h1v1h-1zM749 259h1v1h-1zM750 260h1v1h-1zM751 261h1v1h-1zM752 262h1v1h-1zM753 263h1v1h-1zM754 264h1v2h-1zM755 266h1v2h-1zM756 268h1v2h-1zM757 270h1v2h-1zM758 272h1v2h-1zM759 274h1v2h-1zM760 276h1v2h-1zM761 278h1v1h-1zM762 279h1v2h-1zM763 281h1v2h-1zM764 283h1v2h-1zM765 285h1v1h-1zM766 286h1v2h-1zM767 288h1v1h-1zM768 289h1v2h-1zM769 291h1v1h-1zM770 292h1v2h-1zM771 294h1v1h-1zM772 295h1v2h-1zM773 297h1v1h-1zM774 298h1v2h-1zM775 300h1v1h-1zM776 301h1v2h-1zM777 303h1v1h-1zM778 304h1v1h-1zM779 305h1v2h-1zM780 307h1v1h-1zM781 308h1v1h-1zM782 309h1v1h-1zM783 310h1v1h-1zM784 311h1v1h-1zM785 312h1v1h-1zM786 312h1v1h-1zM787 313h1v1h-1zM788 313h1v1h-1zM789 313h1v1h-1zM790 314h1v1h-1zM791 315h1v1h-1zM792 315h1v1h-1zM793 316h1v1h-1zM794 317h1v1h-1zM795 317h1v1h-1zM796 318h1v1h-1zM797 318h1v1h-1zM798 319h1v1h-1zM799 319h1v1h-1zM800 320h1v1h-1zM801 320h1v1h-1zM802 321h1v1h-1zM803 321h1v1h-1zM804 322h1v1h-1zM805 322h1v1h-1zM806 323h1v1h-1zM807 324h1v1h-1zM808 325h1v1h-1zM809 326h1v1h-1zM810 327h1v1h-1zM811 328h1v1h-1zM812 328h1v1h-1zM813 329h1v1h-1zM814 330h1v1h-1zM815 331h1v1h-1zM816 331h1v1h-1zM817 332h1v1h-1zM818 333h1v1h-1zM819 333h1v1h-1zM820 334h1v1h-1zM821 334h1v1h-1zM822 335h1v1h-1zM823 335h1v1h-1zM824 336h1v1h-1zM825 336h1v1h-1zM826 336h1v1h-1zM827 337h1v1h-1zM828 337h1v1h-1zM829 337h1v1h-1zM830 336h1v1h-1zM831 336h1v1h-1zM832 335h1v1h-1zM833 335h1v1h-1zM834 334h1v1h-1zM835 334h1v1h-1zM836 333h1v1h-1zM837 333h1v1h-1zM838 332h1v1h-1zM839 330h1v2h-1zM840 329h1v1h-1zM841 328h1v1h-1zM842 327h1v1h-1zM843 326h1v1h-1zM844 325h1v1h-1zM845 324h1v1h-1zM846 323h1v1h-1zM847 321h1v2h-1zM848 320h1v1h-1zM849 319h1v1h-1zM850 318h1v1h-1zM851 316h1v2h-1zM852 315h1v1h-1zM853 314h1v1h-1zM854 312h1v2h-1zM855 311h1v1h-1zM856 309h1v2h-1zM857 308h1v1h-1zM858 306h1v2h-1zM859 304h1v2h-1zM860 302h1v2h-1zM861 301h1v1h-1zM862 299h1v2h-1zM863 298h1v1h-1zM864 296h1v2h-1zM865 295h1v1h-1zM866 294h1v1h-1zM867 292h1v2h-1zM868 291h1v1h-1zM869 290h1v1h-1zM870 289h1v1h-1zM871 288h1v1h-1zM872 287h1v1h-1zM873 286h1v1h-1zM874 284h1v2h-1zM875 282h1v2h-1zM876 280h1v2h-1zM877 279h1v1h-1z" fill="#000080" shape-rendering="crispEdges"/>
<g shape-rendering="crispEdges">
<rect x="5" y="119" width="1103" height="2" fill="#FF0000"/>
<rect x="5" y="202" width="1103" height="2" fill="#FF0000"/>
<rect x="5" y="275" width="1103" height="2" fill="#32CD32"/>
<rect x="5" y="345" width="1103" height="2" fill="#0000CD"/>
<rect x="4" y="273" width="6" height="6" fill="#32CD32"/>
<rect x="6" y="275" width="2" height="2" fill="#FFFFFF"/>
<rect x="1101" y="273" width="6" height="6" fill="#32CD32"/>
<rect x="1103" y="275" width="2" height="2" fill="#FFFFFF"/>
<rect x="4" y="343" width="6" height="6" fill="#0000CD"/>
<rect x="6" y="345" width="2" height="2" fill="#FFFFFF"/>
<rect x="1101" y="343" width="6" height="6" fill="#0000CD"/>
<rect x="1103" y="345" width="2" height="2" fill="#FFFFFF"/>
<rect x="1109" y="114" width="41" height="11" fill="#FF0000"/>
<rect x="1109" y="187" width="41" height="10" fill="#000000"/>
<rect x="1109" y="197" width="41" height="11" fill="#FF0000"/>
<rect x="1109" y="270" width="41" height="11" fill="#32CD32"/>
<rect x="1109" y="340" width="41" height="11" fill="#0000CD"/>
<defs><clipPath id="macdclip"><rect x="5" y="487" width="1102" height="93"/></clipPath></defs>
<g clip-path="url(#macdclip)">
<rect x="4" y="517" width="3" height="5" fill="#C0C0C0"/>
<rect x="8" y="517" width="3" height="5" fill="#C0C0C0"/>
<rect x="12" y="516" width="3" height="6" fill="#C0C0C0"/>
<rect x="16" y="512" width="3" height="10" fill="#C0C0C0"/>
<rect x="20" y="511" width="3" height="11" fill="#C0C0C0"/>
<rect x="24" y="509" width="3" height="13" fill="#C0C0C0"/>
<rect x="28" y="508" width="3" height="14" fill="#C0C0C0"/>
<rect x="32" y="509" width="3" height="13" fill="#C0C0C0"/>
<rect x="36" y="514" width="3" height="8" fill="#C0C0C0"/>
<rect x="40" y="518" width="3" height="4" fill="#C0C0C0"/>
<rect x="44" y="522" width="3" height="1" fill="#C0C0C0"/>
<rect x="48" y="522" width="3" height="9" fill="#C0C0C0"/>
<rect x="52" y="522" width="3" height="16" fill="#C0C0C0"/>
<rect x="56" y="522" width="3" height="22" fill="#C0C0C0"/>
<rect x="60" y="522" width="3" height="25" fill="#C0C0C0"/>
<rect x="64" y="522" width="3" height="26" fill="#C0C0C0"/>
<rect x="68" y="522" width="3" height="26" fill="#C0C0C0"/>
<rect x="72" y="522" width="3" height="22" fill="#C0C0C0"/>
<rect x="76" y="522" width="3" height="17" fill="#C0C0C0"/>
<rect x="80" y="522" width="3" height="14" fill="#C0C0C0"/>
<rect x="84" y="522" width="3" height="12" fill="#C0C0C0"/>
<rect x="88" y="522" width="3" height="12" fill="#C0C0C0"/>
<rect x="92" y="522" width="3" height="19" fill="#C0C0C0"/>
<rect x="96" y="522" width="3" height="25" fill="#C0C0C0"/>
<rect x="100" y="522" width="3" height="29" fill="#C0C0C0"/>
<rect x="104" y="522" width="3" height="33" fill="#C0C0C0"/>
<rect x="108" y="522" width="3" height="37" fill="#C0C0C0"/>
<rect x="112" y="522" width="3" height="43" fill="#C0C0C0"/>
<rect x="116" y="522" width="3" height="46" fill="#C0C0C0"/>
<rect x="120" y="522" width="3" height="50" fill="#C0C0C0"/>
<rect x="124" y="522" width="3" height="53" fill="#C0C0C0"/>
<rect x="128" y="522" width="3" height="52" fill="#C0C0C0"/>
<rect x="132" y="522" width="3" height="51" fill="#C0C0C0"/>
<rect x="136" y="522" width="3" height="52" fill="#C0C0C0"/>
<rect x="140" y="522" width="3" height="54" fill="#C0C0C0"/>
<rect x="144" y="522" width="3" height="51" fill="#C0C0C0"/>
<rect x="148" y="522" width="3" height="50" fill="#C0C0C0"/>
<rect x="152" y="522" width="3" height="48" fill="#C0C0C0"/>
<rect x="156" y="522" width="3" height="44" fill="#C0C0C0"/>
<rect x="160" y="522" width="3" height="42" fill="#C0C0C0"/>
<rect x="164" y="522" width="3" height="41" fill="#C0C0C0"/>
<rect x="168" y="522" width="3" height="42" fill="#C0C0C0"/>
<rect x="172" y="522" width="3" height="42" fill="#C0C0C0"/>
<rect x="176" y="522" width="3" height="42" fill="#C0C0C0"/>
<rect x="180" y="522" width="3" height="41" fill="#C0C0C0"/>
<rect x="184" y="522" width="3" height="39" fill="#C0C0C0"/>
<rect x="188" y="522" width="3" height="35" fill="#C0C0C0"/>
<rect x="192" y="522" width="3" height="32" fill="#C0C0C0"/>
<rect x="196" y="522" width="3" height="31" fill="#C0C0C0"/>
<rect x="200" y="522" width="3" height="26" fill="#C0C0C0"/>
<rect x="204" y="522" width="3" height="21" fill="#C0C0C0"/>
<rect x="208" y="522" width="3" height="17" fill="#C0C0C0"/>
<rect x="212" y="522" width="3" height="13" fill="#C0C0C0"/>
<rect x="216" y="522" width="3" height="8" fill="#C0C0C0"/>
<rect x="220" y="522" width="3" height="5" fill="#C0C0C0"/>
<rect x="224" y="522" width="3" height="3" fill="#C0C0C0"/>
<rect x="236" y="518" width="3" height="4" fill="#C0C0C0"/>
<rect x="240" y="515" width="3" height="7" fill="#C0C0C0"/>
<rect x="244" y="513" width="3" height="9" fill="#C0C0C0"/>
<rect x="248" y="512" width="3" height="10" fill="#C0C0C0"/>
<rect x="252" y="508" width="3" height="14" fill="#C0C0C0"/>
<rect x="256" y="502" width="3" height="20" fill="#C0C0C0"/>
<rect x="260" y="502" width="3" height="20" fill="#C0C0C0"/>
<rect x="264" y="502" width="3" height="20" fill="#C0C0C0"/>
<rect x="268" y="504" width="3" height="18" fill="#C0C0C0"/>
<rect x="272" y="504" width="3" height="18" fill="#C0C0C0"/>
<rect x="276" y="505" width="3" height="17" fill="#C0C0C0"/>
<rect x="280" y="501" width="3" height="21" fill="#C0C0C0"/>
<rect x="284" y="498" width="3" height="24" fill="#C0C0C0"/>
<rect x="288" y="498" width="3" height="24" fill="#C0C0C0"/>
<rect x="292" y="499" width="3" height="23" fill="#C0C0C0"/>
<rect x="296" y="498" width="3" height="24" fill="#C0C0C0"/>
<rect x="300" y="496" width="3" height="26" fill="#C0C0C0"/>
<rect x="304" y="498" width="3" height="24" fill="#C0C0C0"/>
<rect x="308" y="499" width="3" height="23" fill="#C0C0C0"/>
<rect x="312" y="498" width="3" height="24" fill="#C0C0C0"/>
<rect x="316" y="499" width="3" height="23" fill="#C0C0C0"/>
<rect x="320" y="501" width="3" height="21" fill="#C0C0C0"/>
<rect x="324" y="503" width="3" height="19" fill="#C0C0C0"/>
<rect x="328" y="504" width="3" height="18" fill="#C0C0C0"/>
<rect x="332" y="504" width="3" height="18" fill="#C0C0C0"/>
<rect x="336" y="505" width="3" height="17" fill="#C0C0C0"/>
<rect x="340" y="505" width="3" height="17" fill="#C0C0C0"/>
<rect x="344" y="505" width="3" height="17" fill="#C0C0C0"/>
<rect x="348" y="504" width="3" height="18" fill="#C0C0C0"/>
<rect x="352" y="508" width="3" height="14" fill="#C0C0C0"/>
<rect x="356" y="512" width="3" height="10" fill="#C0C0C0"/>
<rect x="360" y="519" width="3" height="3" fill="#C0C0C0"/>
<rect x="364" y="522" width="3" height="2" fill="#C0C0C0"/>
<rect x="368" y="522" width="3" height="8" fill="#C0C0C0"/>
<rect x="372" y="522" width="3" height="12" fill="#C0C0C0"/>
<rect x="376" y="522" width="3" height="12" fill="#C0C0C0"/>
<rect x="380" y="522" width="3" height="12" fill="#C0C0C0"/>
<rect x="384" y="522" width="3" height="8" fill="#C0C0C0"/>
<rect x="388" y="522" width="3" height="5" fill="#C0C0C0"/>
<rect x="392" y="522" width="3" height="4" fill="#C0C0C0"/>
<rect x="396" y="522" width="3" height="3" fill="#C0C0C0"/>
<rect x="404" y="521" width="3" height="1" fill="#C0C0C0"/>
<rect x="408" y="520" width="3" height="2" fill="#C0C0C0"/>
<rect x="412" y="519" width="3" height="3" fill="#C0C0C0"/>
<rect x="416" y="518" width="3" height="4" fill="#C0C0C0"/>
<rect x="420" y="519" width="3" height="3" fill="#C0C0C0"/>
<rect x="424" y="518" width="3" height="4" fill="#C0C0C0"/>
<rect x="428" y="518" width="3" height="4" fill="#C0C0C0"/>
<rect x="432" y="519" width="3" height="3" fill="#C0C0C0"/>
<rect x="436" y="519" width="3" height="3" fill="#C0C0C0"/>
<rect x="440" y="520" width="3" height="2" fill="#C0C0C0"/>
<rect x="448" y="519" width="3" height="3" fill="#C0C0C0"/>
<rect x="452" y="516" width="3" height="6" fill="#C0C0C0"/>
<rect x="456" y="513" width="3" height="9" fill="#C0C0C0"/>
<rect x="460" y="511" width="3" height="11" fill="#C0C0C0"/>
<rect x="464" y="511" width="3" height="11" fill="#C0C0C0"/>
<rect x="468" y="510" width="3" height="12" fill="#C0C0C0"/>
<rect x="472" y="509" width="3" height="13" fill="#C0C0C0"/>
<rect x="476" y="511" width="3" height="11" fill="#C0C0C0"/>
<rect x="480" y="518" width="3" height="4" fill="#C0C0C0"/>
<rect x="484" y="522" width="3" height="2" fill="#C0C0C0"/>
<rect x="488" y="522" width="3" height="3" fill="#C0C0C0"/>
<rect x="492" y="522" width="3" height="6" fill="#C0C0C0"/>
<rect x="496" y="522" width="3" height="9" fill="#C0C0C0"/>
<rect x="500" y="522" width="3" height="13" fill="#C0C0C0"/>
<rect x="504" y="522" width="3" height="17" fill="#C0C0C0"/>
<rect x="508" y="522" width="3" height="20" fill="#C0C0C0"/>
<rect x="512" y="522" width="3" height="24" fill="#C0C0C0"/>
<rect x="516" y="522" width="3" height="27" fill="#C0C0C0"/>
<rect x="520" y="522" width="3" height="29" fill="#C0C0C0"/>
<rect x="524" y="522" width="3" height="31" fill="#C0C0C0"/>
<rect x="528" y="522" width="3" height="33" fill="#C0C0C0"/>
<rect x="532" y="522" width="3" height="34" fill="#C0C0C0"/>
<rect x="536" y="522" width="3" height="34" fill="#C0C0C0"/>
<rect x="540" y="522" width="3" height="33" fill="#C0C0C0"/>
<rect x="544" y="522" width="3" height="27" fill="#C0C0C0"/>
<rect x="548" y="522" width="3" height="24" fill="#C0C0C0"/>
<rect x="552" y="522" width="3" height="21" fill="#C0C0C0"/>
<rect x="556" y="522" width="3" height="18" fill="#C0C0C0"/>
<rect x="560" y="522" width="3" height="16" fill="#C0C0C0"/>
<rect x="564" y="522" width="3" height="13" fill="#C0C0C0"/>
<rect x="568" y="522" width="3" height="10" fill="#C0C0C0"/>
<rect x="572" y="522" width="3" height="8" fill="#C0C0C0"/>
<rect x="576" y="522" width="3" height="4" fill="#C0C0C0"/>
<rect x="584" y="519" width="3" height="3" fill="#C0C0C0"/>
<rect x="588" y="517" width="3" height="5" fill="#C0C0C0"/>
<rect x="592" y="514" width="3" height="8" fill="#C0C0C0"/>
<rect x="596" y="511" width="3" height="11" fill="#C0C0C0"/>
<rect x="600" y="511" width="3" height="11" fill="#C0C0C0"/>
<rect x="604" y="511" width="3" height="11" fill="#C0C0C0"/>
<rect x="608" y="511" width="3" height="11" fill="#C0C0C0"/>
<rect x="612" y="511" width="3" height="11" fill="#C0C0C0"/>
<rect x="616" y="508" width="3" height="14" fill="#C0C0C0"/>
<rect x="620" y="506" width="3" height="16" fill="#C0C0C0"/>
<rect x="624" y="504" width="3" height="18" fill="#C0C0C0"/>
<rect x="628" y="503" width="3" height="19" fill="#C0C0C0"/>
<rect x="632" y="501" width="3" height="21" fill="#C0C0C0"/>
<rect x="636" y="501" width="3" height="21" fill="#C0C0C0"/>
<rect x="640" y="502" width="3" height="20" fill="#C0C0C0"/>
<rect x="644" y="502" width="3" height="20" fill="#C0C0C0"/>
<rect x="648" y="503" width="3" height="19" fill="#C0C0C0"/>
<rect x="652" y="504" width="3" height="18" fill="#C0C0C0"/>
<rect x="656" y="504" width="3" height="18" fill="#C0C0C0"/>
<rect x="660" y="504" width="3" height="18" fill="#C0C0C0"/>
<rect x="664" y="508" width="3" height="14" fill="#C0C0C0"/>
<rect x="668" y="514" width="3" height="8" fill="#C0C0C0"/>
<rect x="672" y="514" width="3" height="8" fill="#C0C0C0"/>
<rect x="676" y="515" width="3" height="7" fill="#C0C0C0"/>
<rect x="680" y="517" width="3" height="5" fill="#C0C0C0"/>
<rect x="684" y="518" width="3" height="4" fill="#C0C0C0"/>
<rect x="688" y="521" width="3" height="1" fill="#C0C0C0"/>
<rect x="692" y="522" width="3" height="2" fill="#C0C0C0"/>
<rect x="696" y="522" width="3" height="3" fill="#C0C0C0"/>
<rect x="700" y="522" width="3" height="6" fill="#C0C0C0"/>
<rect x="704" y="522" width="3" height="9" fill="#C0C0C0"/>
<rect x="708" y="522" width="3" height="11" fill="#C0C0C0"/>
<rect x="712" y="522" width="3" height="15" fill="#C0C0C0"/>
<rect x="716" y="522" width="3" height="17" fill="#C0C0C0"/>
<rect x="720" y="522" width="3" height="16" fill="#C0C0C0"/>
<rect x="724" y="522" width="3" height="16" fill="#C0C0C0"/>
<rect x="728" y="522" width="3" height="15" fill="#C0C0C0"/>
<rect x="732" y="522" width="3" height="15" fill="#C0C0C0"/>
<rect x="736" y="522" width="3" height="14" fill="#C0C0C0"/>
<rect x="740" y="522" width="3" height="16" fill="#C0C0C0"/>
<rect x="744" y="522" width="3" height="19" fill="#C0C0C0"/>
<rect x="748" y="522" width="3" height="21" fill="#C0C0C0"/>
<rect x="752" y="522" width="3" height="24" fill="#C0C0C0"/>
<rect x="756" y="522" width="3" height="30" fill="#C0C0C0"/>
<rect x="760" y="522" width="3" height="34" fill="#C0C0C0"/>
<rect x="764" y="522" width="3" height="37" fill="#C0C0C0"/>
<rect x="768" y="522" width="3" height="39" fill="#C0C0C0"/>
<rect x="772" y="522" width="3" height="39" fill="#C0C0C0"/>
<rect x="776" y="522" width="3" height="40" fill="#C0C0C0"/>
<rect x="780" y="522" width="3" height="38" fill="#C0C0C0"/>
<rect x="784" y="522" width="3" height="35" fill="#C0C0C0"/>
<rect x="788" y="522" width="3" height="29" fill="#C0C0C0"/>
<rect x="792" y="522" width="3" height="26" fill="#C0C0C0"/>
<rect x="796" y="522" width="3" height="24" fill="#C0C0C0"/>
<rect x="800" y="522" width="3" height="21" fill="#C0C0C0"/>
<rect x="804" y="522" width="3" height="19" fill="#C0C0C0"/>
<rect x="808" y="522" width="3" height="18" fill="#C0C0C0"/>
<rect x="812" y="522" width="3" height="17" fill="#C0C0C0"/>
<rect x="816" y="522" width="3" height="15" fill="#C0C0C0"/>
<rect x="820" y="522" width="3" height="13" fill="#C0C0C0"/>
<rect x="824" y="522" width="3" height="12" fill="#C0C0C0"/>
<rect x="828" y="522" width="3" height="10" fill="#C0C0C0"/>
<rect x="832" y="522" width="3" height="6" fill="#C0C0C0"/>
<rect x="836" y="522" width="3" height="1" fill="#C0C0C0"/>
<rect x="840" y="520" width="3" height="2" fill="#C0C0C0"/>
<rect x="844" y="518" width="3" height="4" fill="#C0C0C0"/>
<rect x="848" y="514" width="3" height="8" fill="#C0C0C0"/>
<rect x="852" y="510" width="3" height="12" fill="#C0C0C0"/>
<rect x="856" y="507" width="3" height="15" fill="#C0C0C0"/>
<rect x="860" y="503" width="3" height="19" fill="#C0C0C0"/>
<rect x="864" y="500" width="3" height="22" fill="#C0C0C0"/>
<rect x="868" y="498" width="3" height="24" fill="#C0C0C0"/>
<rect x="872" y="495" width="3" height="27" fill="#C0C0C0"/>
<rect x="876" y="492" width="3" height="30" fill="#C0C0C0"/>
</g>
</g>
<path d="M5 440h1v1h-1zM6 440h1v1h-1zM7 440h1v1h-1zM8 440h1v1h-1zM9 440h1v1h-1zM10 439h1v1h-1zM11 437h1v2h-1zM12 436h1v1h-1zM13 435h1v1h-1zM14 433h1v2h-1zM15 431h1v2h-1zM16 429h1v2h-1zM17 428h1v1h-1zM18 429h1v1h-1zM19 430h1v1h-1zM20 431h1v1h-1zM21 432h1v1h-1zM22 432h1v1h-1zM23 431h1v1h-1zM24 431h1v1h-1zM25 431h1v1h-1zM26 431h1v1h-1zM27 431h1v1h-1zM28 431h1v1h-1zM29 431h1v1h-1zM30 432h1v2h-1zM31 434h1v2h-1zM32 436h1v2h-1zM33 438h1v1h-1zM34 439h1v2h-1zM35 441h1v2h-1zM36 443h1v2h-1zM37 445h1v1h-1zM38 445h1v1h-1zM39 446h1v1h-1zM40 446h1v1h-1zM41 446h1v1h-1zM42 447h1v1h-1zM43 448h1v1h-1zM44 449h1v1h-1zM45 450h1v1h-1zM46 451h1v2h-1zM47 453h1v2h-1zM48 455h1v2h-1zM49 457h1v1h-1zM50 457h1v1h-1zM51 457h1v1h-1zM52 457h1v1h-1zM53 457h1v1h-1zM54 457h1v1h-1zM55 458h1v1h-1zM56 458h1v1h-1zM57 458h1v1h-1zM58 457h1v1h-1zM59 455h1v2h-1zM60 454h1v1h-1zM61 453h1v1h-1zM62 453h1v1h-1zM63 452h1v1h-1zM64 452h1v1h-1zM65 452h1v1h-1zM66 451h1v1h-1zM67 449h1v2h-1zM68 448h1v1h-1zM69 447h1v1h-1zM70 445h1v2h-1zM71 444h1v1h-1zM72 442h1v2h-1zM73 441h1v1h-1zM74 440h1v1h-1zM75 439h1v1h-1zM76 438h1v1h-1zM77 437h1v1h-1zM78 438h1v1h-1zM79 438h1v1h-1zM80 439h1v1h-1zM81 439h1v1h-1zM82 439h1v1h-1zM83 440h1v1h-1zM84 440h1v1h-1zM85 440h1v1h-1zM86 441h1v1h-1zM87 442h1v1h-1zM88 442h1v1h-1zM89 443h1v2h-1zM90 445h1v3h-1zM91 448h1v3h-1zM92 451h1v3h-1zM93 454h1v2h-1zM94 455h1v1h-1zM95 454h1v1h-1zM96 454h1v1h-1zM97 454h1v1h-1zM98 454h1v1h-1zM99 455h1v1h-1zM100 455h1v1h-1zM101 455h1v1h-1zM102 455h1v1h-1zM103 456h1v1h-1zM104 456h1v1h-1zM105 456h1v1h-1zM106 457h1v1h-1zM107 457h1v1h-1zM108 458h1v1h-1zM109 458h1v1h-1zM110 459h1v1h-1zM111 460h1v1h-1zM112 460h1v1h-1zM113 461h1v1h-1zM114 461h1v1h-1zM115 460h1v1h-1zM116 460h1v1h-1zM117 460h1v1h-1zM118 460h1v1h-1zM119 461h1v1h-1zM120 461h1v1h-1zM121 461h1v1h-1zM122 461h1v1h-1zM123 462h1v1h-1zM124 462h1v1h-1zM125 462h1v1h-1zM126 460h1v2h-1zM127 458h1v2h-1zM128 456h1v2h-1zM129 455h1v1h-1zM130 455h1v1h-1zM131 456h1v1h-1zM132 456h1v1h-1zM133 456h1v1h-1zM134 457h1v1h-1zM135 458h1v1h-1zM136 458h1v1h-1zM137 459h1v1h-1zM138 459h1v1h-1zM139 460h1v1h-1zM140 460h1v1h-1zM141 460h1v1h-1zM142 458h1v2h-1zM143 456h1v2h-1zM144 454h1v2h-1zM145 452h1v2h-1zM146 452h1v1h-1zM147 453h1v1h-1zM148 453h1v1h-1zM149 453h1v1h-1zM150 453h1v1h-1zM151 453h1v1h-1zM152 453h1v1h-1zM153 453h1v1h-1zM154 452h1v1h-1zM155 450h1v2h-1zM156 449h1v1h-1zM157 448h1v1h-1zM158 449h1v1h-1zM159 449h1v1h-1zM160 450h1v1h-1zM161 450h1v1h-1zM162 451h1v1h-1zM163 451h1v1h-1zM164 452h1v1h-1zM165 452h1v1h-1zM166 453h1v1h-1zM167 454h1v1h-1zM168 454h1v1h-1zM169 455h1v1h-1zM170 455h1v1h-1zM171 455h1v1h-1zM172 455h1v1h-1zM173 455h1v1h-1zM174 455h1v1h-1zM175 454h1v1h-1zM176 454h1v1h-1zM177 454h1v1h-1zM178 454h1v1h-1zM179 453h1v1h-1zM180 453h1v1h-1zM181 453h1v1h-1zM182 453h1v1h-1zM183 453h1v1h-1zM184 453h1v1h-1zM185 453h1v1h-1zM186 451h1v2h-1zM187 449h1v2h-1zM188 447h1v2h-1zM189 445h1v2h-1zM190 445h1v1h-1zM191 446h1v1h-1zM192 446h1v1h-1zM193 446h1v1h-1zM194 447h1v1h-1zM195 448h1v1h-1zM196 448h1v1h-1zM197 449h1v1h-1zM198 447h1v2h-1zM199 445h1v2h-1zM200 443h1v2h-1zM201 441h1v2h-1zM202 440h1v1h-1zM203 439h1v1h-1zM204 439h1v1h-1zM205 438h1v1h-1zM206 438h1v1h-1zM207 439h1v1h-1zM208 439h1v1h-1zM209 439h1v1h-1zM210 438h1v1h-1zM211 438h1v1h-1zM212 437h1v1h-1zM213 437h1v1h-1zM214 436h1v1h-1zM215 434h1v2h-1zM216 433h1v1h-1zM217 432h1v1h-1zM218 433h1v1h-1zM219 434h1v1h-1zM220 434h1v1h-1zM221 435h1v1h-1zM222 436h1v1h-1zM223 437h1v1h-1zM224 437h1v1h-1zM225 438h1v1h-1zM226 437h1v1h-1zM227 436h1v1h-1zM228 436h1v1h-1zM229 435h1v1h-1zM230 436h1v1h-1zM231 437h1v1h-1zM232 438h1v1h-1zM233 439h1v1h-1zM234 437h1v2h-1zM235 435h1v2h-1zM236 433h1v2h-1zM237 432h1v1h-1zM238 431h1v1h-1zM239 431h1v1h-1zM240 430h1v1h-1zM241 430h1v1h-1zM242 431h1v1h-1zM243 431h1v1h-1zM244 432h1v1h-1zM245 432h1v1h-1zM246 433h1v1h-1zM247 433h1v1h-1zM248 434h1v1h-1zM249 434h1v1h-1zM250 432h1v2h-1zM251 431h1v1h-1zM252 429h1v2h-1zM253 428h1v1h-1zM254 426h1v2h-1zM255 425h1v1h-1zM256 423h1v2h-1zM257 422h1v2h-1zM258 424h1v3h-1zM259 427h1v3h-1zM260 430h1v3h-1zM261 433h1v2h-1zM262 434h1v1h-1zM263 435h1v1h-1zM264 435h1v1h-1zM265 435h1v1h-1zM266 436h1v1h-1zM267 436h1v1h-1zM268 437h1v1h-1zM269 437h1v1h-1zM270 436h1v1h-1zM271 436h1v1h-1zM272 435h1v1h-1zM273 435h1v1h-1zM274 435h1v1h-1zM275 436h1v1h-1zM276 436h1v1h-1zM277 436h1v1h-1zM278 434h1v2h-1zM279 432h1v2h-1zM280 430h1v2h-1zM281 428h1v2h-1zM282 428h1v1h-1zM283 428h1v1h-1zM284 428h1v1h-1zM285 428h1v1h-1zM286 429h1v1h-1zM287 430h1v2h-1zM288 432h1v1h-1zM289 433h1v1h-1zM290 433h1v1h-1zM291 434h1v1h-1zM292 434h1v1h-1zM293 434h1v1h-1zM294 433h1v1h-1zM295 432h1v1h-1zM296 432h1v1h-1zM297 431h1v1h-1zM298 430h1v1h-1zM299 430h1v1h-1zM300 429h1v1h-1zM301 429h1v1h-1zM302 430h1v2h-1zM303 432h1v2h-1zM304 434h1v2h-1zM305 436h1v1h-1zM306 435h1v1h-1zM307 435h1v1h-1zM308 434h1v1h-1zM309 434h1v1h-1zM310 433h1v1h-1zM311 433h1v1h-1zM312 432h1v1h-1zM313 432h1v1h-1zM314 433h1v1h-1zM315 434h1v1h-1zM316 434h1v1h-1zM317 435h1v1h-1zM318 435h1v1h-1zM319 436h1v1h-1zM320 436h1v1h-1zM321 436h1v1h-1zM322 436h1v1h-1zM323 437h1v1h-1zM324 437h1v1h-1zM325 437h1v1h-1zM326 436h1v1h-1zM327 436h1v1h-1zM328 435h1v1h-1zM329 435h1v1h-1zM330 435h1v1h-1zM331 435h1v1h-1zM332 435h1v1h-1zM333 435h1v1h-1zM334 435h1v1h-1zM335 435h1v1h-1zM336 435h1v1h-1zM337 435h1v1h-1zM338 434h1v1h-1zM339 433h1v1h-1zM340 433h1v1h-1zM341 432h1v1h-1zM342 432h1v1h-1zM343 432h1v1h-1zM344 432h1v1h-1zM345 432h1v1h-1zM346 432h1v1h-1zM347 431h1v1h-1zM348 431h1v1h-1zM349 431h1v2h-1zM350 433h1v3h-1zM351 436h1v3h-1zM352 439h1v3h-1zM353 442h1v2h-1zM354 443h1v1h-1zM355 444h1v1h-1zM356 444h1v1h-1zM357 444h1v1h-1zM358 445h1v2h-1zM359 447h1v1h-1zM360 448h1v2h-1zM361 450h1v1h-1zM362 450h1v1h-1zM363 450h1v1h-1zM364 450h1v1h-1zM365 450h1v1h-1zM366 451h1v1h-1zM367 452h1v1h-1zM368 452h1v1h-1zM369 453h1v1h-1zM370 453h1v1h-1zM371 453h1v1h-1zM372 453h1v1h-1zM373 452h1v2h-1zM374 450h1v2h-1zM375 448h1v2h-1zM376 446h1v2h-1zM377 444h1v2h-1zM378 444h1v1h-1zM379 443h1v1h-1zM380 443h1v1h-1zM381 443h1v1h-1zM382 441h1v2h-1zM383 439h1v2h-1zM384 437h1v2h-1zM385 436h1v1h-1zM386 436h1v1h-1zM387 435h1v1h-1zM388 435h1v1h-1zM389 435h1v1h-1zM390 436h1v1h-1zM391 437h1v2h-1zM392 439h1v1h-1zM393 440h1v1h-1zM394 440h1v1h-1zM395 439h1v1h-1zM396 439h1v1h-1zM397 439h1v1h-1zM398 438h1v1h-1zM399 437h1v1h-1zM400 436h1v1h-1zM401 435h1v1h-1zM402 436h1v1h-1zM403 437h1v1h-1zM404 437h1v1h-1zM405 438h1v1h-1zM406 438h1v1h-1zM407 437h1v1h-1zM408 437h1v1h-1zM409 437h1v1h-1zM410 437h1v1h-1zM411 436h1v1h-1zM412 436h1v1h-1zM413 436h1v1h-1zM414 436h1v1h-1zM415 437h1v1h-1zM416 437h1v1h-1zM417 437h1v1h-1zM418 438h1v1h-1zM419 439h1v1h-1zM420 439h1v1h-1zM421 440h1v1h-1zM422 439h1v1h-1zM423 438h1v1h-1zM424 437h1v1h-1zM425 436h1v1h-1zM426 436h1v1h-1zM427 437h1v1h-1zM428 437h1v1h-1zM429 437h1v1h-1zM430 438h1v1h-1zM431 439h1v1h-1zM432 439h1v1h-1zM433 440h1v1h-1zM434 440h1v1h-1zM435 441h1v1h-1zM436 441h1v1h-1zM437 441h1v1h-1zM438 441h1v1h-1zM439 441h1v1h-1zM440 441h1v1h-1zM441 441h1v1h-1zM442 442h1v1h-1zM443 442h1v1h-1zM444 443h1v1h-1zM445 442h1v2h-1zM446 439h1v3h-1zM447 437h1v2h-1zM448 434h1v3h-1zM449 432h1v2h-1zM450 431h1v1h-1zM451 431h1v1h-1zM452 430h1v1h-1zM453 430h1v1h-1zM454 430h1v1h-1zM455 429h1v1h-1zM456 429h1v1h-1zM457 429h1v1h-1zM458 430h1v1h-1zM459 430h1v1h-1zM460 431h1v1h-1zM461 431h1v1h-1zM462 432h1v1h-1zM463 433h1v1h-1zM464 434h1v1h-1zM465 435h1v1h-1zM466 434h1v1h-1zM467 433h1v1h-1zM468 432h1v1h-1zM469 431h1v1h-1zM470 431h1v1h-1zM471 432h1v1h-1zM472 432h1v1h-1zM473 432h1v2h-1zM474 434h1v2h-1zM475 436h1v2h-1zM476 438h1v2h-1zM477 440h1v3h-1zM478 443h1v2h-1zM479 445h1v3h-1zM480 448h1v2h-1zM481 450h1v2h-1zM482 451h1v1h-1zM483 451h1v1h-1zM484 451h1v1h-1zM485 451h1v1h-1zM486 449h1v2h-1zM487 447h1v2h-1zM488 445h1v2h-1zM489 444h1v1h-1zM490 445h1v1h-1zM491 446h1v1h-1zM492 446h1v1h-1zM493 447h1v1h-1zM494 447h1v1h-1zM495 448h1v1h-1zM496 448h1v1h-1zM497 448h1v1h-1zM498 449h1v1h-1zM499 450h1v2h-1zM500 452h1v1h-1zM501 453h1v1h-1zM502 453h1v1h-1zM503 453h1v1h-1zM504 453h1v1h-1zM505 453h1v1h-1zM506 453h1v1h-1zM507 454h1v1h-1zM508 454h1v1h-1zM509 454h1v1h-1zM510 455h1v1h-1zM511 455h1v1h-1zM512 456h1v1h-1zM513 456h1v1h-1zM514 456h1v1h-1zM515 457h1v1h-1zM516 457h1v1h-1zM517 457h1v1h-1zM518 457h1v1h-1zM519 456h1v1h-1zM520 456h1v1h-1zM521 456h1v1h-1zM522 456h1v1h-1zM523 457h1v1h-1zM524 457h1v1h-1zM525 457h1v1h-1zM526 458h1v1h-1zM527 458h1v1h-1zM528 459h1v1h-1zM529 459h1v1h-1zM530 459h1v1h-1zM531 459h1v1h-1zM532 459h1v1h-1zM533 459h1v1h-1zM534 459h1v1h-1zM535 458h1v1h-1zM536 458h1v1h-1zM537 458h1v1h-1zM538 457h1v1h-1zM539 456h1v1h-1zM540 456h1v1h-1zM541 453h1v3h-1zM542 449h1v4h-1zM543 444h1v5h-1zM544 440h1v4h-1zM545 437h1v3h-1zM546 438h1v1h-1zM547 439h1v2h-1zM548 441h1v1h-1zM549 442h1v1h-1zM550 442h1v1h-1zM551 441h1v1h-1zM552 441h1v1h-1zM553 441h1v1h-1zM554 441h1v1h-1zM555 442h1v1h-1zM556 442h1v1h-1zM557 442h1v1h-1zM558 442h1v1h-1zM559 442h1v1h-1zM560 442h1v1h-1zM561 442h1v1h-1zM562 441h1v1h-1zM563 440h1v1h-1zM564 440h1v1h-1zM565 439h1v1h-1zM566 438h1v1h-1zM567 437h1v1h-1zM568 437h1v1h-1zM569 436h1v1h-1zM570 437h1v1h-1zM571 437h1v1h-1zM572 438h1v1h-1zM573 438h1v1h-1zM574 436h1v2h-1zM575 435h1v1h-1zM576 433h1v2h-1zM577 432h1v1h-1zM578 431h1v1h-1zM579 431h1v1h-1zM580 430h1v1h-1zM581 430h1v1h-1zM582 431h1v1h-1zM583 432h1v1h-1zM584 432h1v1h-1zM585 433h1v1h-1zM586 432h1v1h-1zM587 432h1v1h-1zM588 431h1v1h-1zM589 431h1v1h-1zM590 430h1v1h-1zM591 430h1v1h-1zM592 429h1v1h-1zM593 429h1v1h-1zM594 429h1v1h-1zM595 428h1v1h-1zM596 428h1v1h-1zM597 428h1v1h-1zM598 429h1v2h-1zM599 431h1v2h-1zM600 433h1v2h-1zM601 435h1v1h-1zM602 434h1v1h-1zM603 434h1v1h-1zM604 433h1v1h-1zM605 433h1v1h-1zM606 434h1v1h-1zM607 435h1v1h-1zM608 436h1v1h-1zM609 437h1v1h-1zM610 436h1v1h-1zM611 435h1v1h-1zM612 435h1v1h-1zM613 434h1v1h-1zM614 432h1v2h-1zM615 430h1v2h-1zM616 428h1v2h-1zM617 426h1v2h-1zM618 427h1v1h-1zM619 428h1v1h-1zM620 428h1v1h-1zM621 429h1v1h-1zM622 429h1v1h-1zM623 428h1v1h-1zM624 428h1v1h-1zM625 428h1v1h-1zM626 428h1v1h-1zM627 428h1v1h-1zM628 428h1v1h-1zM629 428h1v1h-1zM630 427h1v1h-1zM631 426h1v1h-1zM632 426h1v1h-1zM633 425h1v1h-1zM634 426h1v1h-1zM635 427h1v2h-1zM636 429h1v1h-1zM637 430h1v1h-1zM638 431h1v1h-1zM639 431h1v1h-1zM640 432h1v1h-1zM641 432h1v1h-1zM642 432h1v1h-1zM643 431h1v1h-1zM644 431h1v1h-1zM645 431h1v1h-1zM646 432h1v1h-1zM647 432h1v1h-1zM648 433h1v1h-1zM649 433h1v1h-1zM650 433h1v1h-1zM651 433h1v1h-1zM652 433h1v1h-1zM653 433h1v1h-1zM654 432h1v1h-1zM655 431h1v1h-1zM656 430h1v1h-1zM657 429h1v1h-1zM658 430h1v1h-1zM659 430h1v1h-1zM660 431h1v1h-1zM661 431h1v2h-1zM662 433h1v3h-1zM663 436h1v3h-1zM664 439h1v3h-1zM665 442h1v2h-1zM666 444h1v2h-1zM667 446h1v1h-1zM668 447h1v2h-1zM669 448h1v2h-1zM670 445h1v3h-1zM671 442h1v3h-1zM672 439h1v3h-1zM673 437h1v2h-1zM674 437h1v1h-1zM675 438h1v1h-1zM676 438h1v1h-1zM677 438h1v1h-1zM678 439h1v1h-1zM679 440h1v1h-1zM680 441h1v1h-1zM681 442h1v1h-1zM682 442h1v1h-1zM683 441h1v1h-1zM684 441h1v1h-1zM685 441h1v1h-1zM686 442h1v1h-1zM687 443h1v1h-1zM688 443h1v1h-1zM689 444h1v1h-1zM690 445h1v1h-1zM691 445h1v1h-1zM692 446h1v1h-1zM693 446h1v1h-1zM694 446h1v1h-1zM695 445h1v1h-1zM696 445h1v1h-1zM697 445h1v1h-1zM698 446h1v1h-1zM699 446h1v1h-1zM700 447h1v1h-1zM701 447h1v1h-1zM702 448h1v1h-1zM703 449h1v1h-1zM704 449h1v1h-1zM705 450h1v1h-1zM706 450h1v1h-1zM707 450h1v1h-1zM708 450h1v1h-1zM709 450h1v1h-1zM710 451h1v1h-1zM711 452h1v1h-1zM712 453h1v1h-1zM713 454h1v1h-1zM714 453h1v1h-1zM715 452h1v1h-1zM716 452h1v1h-1zM717 451h1v1h-1zM718 449h1v2h-1zM719 448h1v1h-1zM720 446h1v2h-1zM721 445h1v1h-1zM722 445h1v1h-1zM723 445h1v1h-1zM724 445h1v1h-1zM725 445h1v1h-1zM726 445h1v1h-1zM727 444h1v1h-1zM728 444h1v1h-1zM729 444h1v1h-1zM730 445h1v1h-1zM731 445h1v1h-1zM732 446h1v1h-1zM733 446h1v1h-1zM734 445h1v1h-1zM735 445h1v1h-1zM736 444h1v1h-1zM737 444h1v1h-1zM738 445h1v2h-1zM739 447h1v1h-1zM740 448h1v2h-1zM741 450h1v1h-1zM742 451h1v1h-1zM743 452h1v1h-1zM744 453h1v1h-1zM745 454h1v1h-1zM746 454h1v1h-1zM747 455h1v1h-1zM748 455h1v1h-1zM749 455h1v1h-1zM750 456h1v1h-1zM751 456h1v1h-1zM752 457h1v1h-1zM753 457h1v1h-1zM754 458h1v2h-1zM755 460h1v1h-1zM756 461h1v2h-1zM757 463h1v1h-1zM758 462h1v1h-1zM759 461h1v1h-1zM760 461h1v1h-1zM761 460h1v1h-1zM762 460h1v1h-1zM763 460h1v1h-1zM764 460h1v1h-1zM765 460h1v1h-1zM766 460h1v1h-1zM767 460h1v1h-1zM768 460h1v1h-1zM769 460h1v1h-1zM770 459h1v1h-1zM771 459h1v1h-1zM772 458h1v1h-1zM773 458h1v1h-1zM774 459h1v1h-1zM775 459h1v1h-1zM776 460h1v1h-1zM777 459h1v2h-1zM778 457h1v2h-1zM779 455h1v2h-1zM780 453h1v2h-1zM781 451h1v2h-1zM782 450h1v1h-1zM783 449h1v1h-1zM784 449h1v1h-1zM785 447h1v2h-1zM786 445h1v2h-1zM787 443h1v2h-1zM788 441h1v2h-1zM789 439h1v2h-1zM790 440h1v1h-1zM791 441h1v2h-1zM792 443h1v1h-1zM793 444h1v1h-1zM794 444h1v1h-1zM795 443h1v1h-1zM796 443h1v1h-1zM797 443h1v1h-1zM798 443h1v1h-1zM799 444h1v1h-1zM800 444h1v1h-1zM801 444h1v1h-1zM802 443h1v1h-1zM803 443h1v1h-1zM804 442h1v1h-1zM805 442h1v1h-1zM806 443h1v1h-1zM807 443h1v1h-1zM808 444h1v1h-1zM809 444h1v1h-1zM810 444h1v1h-1zM811 445h1v1h-1zM812 445h1v1h-1zM813 445h1v1h-1zM814 444h1v1h-1zM815 443h1v1h-1zM816 443h1v1h-1zM817 442h1v1h-1zM818 442h1v1h-1zM819 441h1v1h-1zM820 441h1v1h-1zM821 441h1v1h-1zM822 441h1v1h-1zM823 442h1v1h-1zM824 442h1v1h-1zM825 442h1v1h-1zM826 442h1v1h-1zM827 441h1v1h-1zM828 441h1v1h-1zM829 441h1v1h-1zM830 439h1v2h-1zM831 437h1v2h-1zM832 435h1v2h-1zM833 433h1v2h-1zM834 432h1v1h-1zM835 431h1v1h-1zM836 430h1v1h-1zM837 429h1v1h-1zM838 430h1v1h-1zM839 430h1v1h-1zM840 431h1v1h-1zM841 431h1v1h-1zM842 431h1v1h-1zM843 431h1v1h-1zM844 431h1v1h-1zM845 431h1v1h-1zM846 430h1v1h-1zM847 428h1v2h-1zM848 427h1v1h-1zM849 426h1v1h-1zM850 426h1v1h-1zM851 426h1v1h-1zM852 426h1v1h-1zM853 426h1v1h-1zM854 425h1v1h-1zM855 424h1v1h-1zM856 424h1v1h-1zM857 423h1v1h-1zM858 423h1v1h-1zM859 422h1v1h-1zM860 422h1v1h-1zM861 422h1v1h-1zM862 422h1v1h-1zM863 421h1v1h-1zM864 421h1v1h-1zM865 421h1v1h-1zM866 421h1v1h-1zM867 421h1v1h-1zM868 421h1v1h-1zM869 421h1v1h-1zM870 420h1v1h-1zM871 419h1v1h-1zM872 419h1v1h-1zM873 418h1v1h-1zM874 417h1v1h-1zM875 416h1v1h-1zM876 416h1v1h-1zM877 415h1v1h-1z" fill="#1E90FF" shape-rendering="crispEdges"/>
<path d="M5 515h1v1h-1zM6 515h1v1h-1zM7 516h1v1h-1zM8 516h1v1h-1zM9 516h1v1h-1zM10 516h1v1h-1zM11 516h1v1h-1zM12 516h1v1h-1zM13 516h1v1h-1zM14 516h1v1h-1zM15 516h1v1h-1zM16 516h1v1h-1zM17 516h1v1h-1zM18 516h1v1h-1zM19 516h1v1h-1zM20 516h1v1h-1zM21 516h1v1h-1zM22 516h1v1h-1zM23 515h1v1h-1zM24 515h1v1h-1zM25 515h1v1h-1zM26 515h1v1h-1zM27 514h1v1h-1zM28 514h1v1h-1zM29 514h1v1h-1zM30 514h1v1h-1zM31 513h1v1h-1zM32 513h1v1h-1zM33 513h1v1h-1zM34 513h1v1h-1zM35 512h1v1h-1zM36 512h1v1h-1zM37 512h1v1h-1zM38 512h1v1h-1zM39 513h1v1h-1zM40 513h1v1h-1zM41 513h1v1h-1zM42 513h1v1h-1zM43 513h1v1h-1zM44 513h1v1h-1zM45 513h1v1h-1zM46 514h1v1h-1zM47 514h1v1h-1zM48 515h1v1h-1zM49 515h1v1h-1zM50 516h1v1h-1zM51 517h1v1h-1zM52 517h1v1h-1zM53 518h1v1h-1zM54 519h1v1h-1zM55 520h1v1h-1zM56 520h1v1h-1zM57 521h1v1h-1zM58 522h1v1h-1zM59 523h1v2h-1zM60 525h1v1h-1zM61 526h1v1h-1zM62 527h1v1h-1zM63 528h1v1h-1zM64 529h1v1h-1zM65 530h1v1h-1zM66 531h1v1h-1zM67 532h1v1h-1zM68 533h1v1h-1zM69 534h1v1h-1zM70 535h1v1h-1zM71 536h1v1h-1zM72 537h1v1h-1zM73 538h1v1h-1zM74 539h1v1h-1zM75 539h1v1h-1zM76 540h1v1h-1zM77 540h1v1h-1zM78 541h1v1h-1zM79 541h1v1h-1zM80 542h1v1h-1zM81 542h1v1h-1zM82 542h1v1h-1zM83 542h1v1h-1zM84 542h1v1h-1zM85 542h1v1h-1zM86 542h1v1h-1zM87 542h1v1h-1zM88 542h1v1h-1zM89 542h1v1h-1zM90 542h1v1h-1zM91 541h1v1h-1zM92 541h1v1h-1zM93 541h1v1h-1zM94 541h1v1h-1zM95 541h1v1h-1zM96 541h1v1h-1zM97 541h1v1h-1zM98 541h1v1h-1zM99 542h1v1h-1zM100 542h1v1h-1zM101 542h1v1h-1zM102 542h1v1h-1zM103 542h1v1h-1zM104 542h1v1h-1zM105 542h1v1h-1zM106 543h1v1h-1zM107 543h1v1h-1zM108 544h1v1h-1zM109 544h1v1h-1zM110 545h1v1h-1zM111 546h1v1h-1zM112 546h1v1h-1zM113 547h1v1h-1zM114 548h1v1h-1zM115 549h1v1h-1zM116 549h1v1h-1zM117 550h1v1h-1zM118 551h1v1h-1zM119 552h1v1h-1zM120 553h1v1h-1zM121 554h1v1h-1zM122 555h1v1h-1zM123 556h1v2h-1zM124 558h1v1h-1zM125 559h1v1h-1zM126 560h1v1h-1zM127 561h1v1h-1zM128 562h1v1h-1zM129 563h1v1h-1zM130 564h1v1h-1zM131 565h1v1h-1zM132 565h1v1h-1zM133 566h1v1h-1zM134 567h1v1h-1zM135 567h1v1h-1zM136 568h1v1h-1zM137 568h1v1h-1zM138 569h1v1h-1zM139 570h1v1h-1zM140 570h1v1h-1zM141 571h1v1h-1zM142 571h1v1h-1zM143 572h1v1h-1zM144 572h1v1h-1zM145 572h1v1h-1zM146 572h1v1h-1zM147 573h1v1h-1zM148 573h1v1h-1zM149 573h1v1h-1zM150 573h1v1h-1zM151 573h1v1h-1zM152 573h1v1h-1zM153 573h1v1h-1zM154 573h1v1h-1zM155 573h1v1h-1zM156 573h1v1h-1zM157 573h1v1h-1zM158 572h1v1h-1zM159 572h1v1h-1zM160 571h1v1h-1zM161 571h1v1h-1zM162 571h1v1h-1zM163 570h1v1h-1zM164 570h1v1h-1zM165 570h1v1h-1zM166 570h1v1h-1zM167 569h1v1h-1zM168 569h1v1h-1zM169 569h1v1h-1zM170 569h1v1h-1zM171 568h1v1h-1zM172 568h1v1h-1zM173 568h1v1h-1zM174 568h1v1h-1zM175 567h1v1h-1zM176 567h1v1h-1zM177 567h1v1h-1zM178 567h1v1h-1zM179 566h1v1h-1zM180 566h1v1h-1zM181 566h1v1h-1zM182 565h1v1h-1zM183 565h1v1h-1zM184 564h1v1h-1zM185 564h1v1h-1zM186 564h1v1h-1zM187 563h1v1h-1zM188 563h1v1h-1zM189 563h1v1h-1zM190 563h1v1h-1zM191 562h1v1h-1zM192 562h1v1h-1zM193 562h1v1h-1zM194 561h1v1h-1zM195 561h1v1h-1zM196 560h1v1h-1zM197 560h1v1h-1zM198 560h1v1h-1zM199 559h1v1h-1zM200 559h1v1h-1zM201 559h1v1h-1zM202 558h1v1h-1zM203 557h1v1h-1zM204 557h1v1h-1zM205 556h1v1h-1zM206 555h1v1h-1zM207 555h1v1h-1zM208 554h1v1h-1zM209 554h1v1h-1zM210 553h1v1h-1zM211 552h1v1h-1zM212 551h1v1h-1zM213 550h1v1h-1zM214 549h1v1h-1zM215 548h1v1h-1zM216 548h1v1h-1zM217 547h1v1h-1zM218 546h1v1h-1zM219 545h1v1h-1zM220 544h1v1h-1zM221 543h1v1h-1zM222 542h1v1h-1zM223 541h1v1h-1zM224 540h1v1h-1zM225 539h1v1h-1zM226 538h1v1h-1zM227 537h1v1h-1zM228 537h1v1h-1zM229 536h1v1h-1zM230 535h1v1h-1zM231 534h1v1h-1zM232 533h1v1h-1zM233 532h1v1h-1zM234 531h1v1h-1zM235 530h1v1h-1zM236 530h1v1h-1zM237 529h1v1h-1zM238 528h1v1h-1zM239 527h1v1h-1zM240 527h1v1h-1zM241 526h1v1h-1zM242 525h1v1h-1zM243 524h1v1h-1zM244 524h1v1h-1zM245 523h1v1h-1zM246 522h1v1h-1zM247 521h1v1h-1zM248 521h1v1h-1zM249 520h1v1h-1zM250 519h1v1h-1zM251 519h1v1h-1zM252 518h1v1h-1zM253 518h1v1h-1zM254 517h1v1h-1zM255 516h1v1h-1zM256 516h1v1h-1zM257 515h1v1h-1zM258 514h1v1h-1zM259 514h1v1h-1zM260 513h1v1h-1zM261 513h1v1h-1zM262 512h1v1h-1zM263 511h1v1h-1zM264 511h1v1h-1zM265 510h1v1h-1zM266 509h1v1h-1zM267 509h1v1h-1zM268 508h1v1h-1zM269 508h1v1h-1zM270 508h1v1h-1zM271 507h1v1h-1zM272 507h1v1h-1zM273 507h1v1h-1zM274 507h1v1h-1zM275 506h1v1h-1zM276 506h1v1h-1zM277 506h1v1h-1zM278 506h1v1h-1zM279 505h1v1h-1zM280 505h1v1h-1zM281 505h1v1h-1zM282 504h1v1h-1zM283 504h1v1h-1zM284 503h1v1h-1zM285 503h1v1h-1zM286 503h1v1h-1zM287 502h1v1h-1zM288 502h1v1h-1zM289 502h1v1h-1zM290 502h1v1h-1zM291 502h1v1h-1zM292 502h1v1h-1zM293 502h1v1h-1zM294 502h1v1h-1zM295 501h1v1h-1zM296 501h1v1h-1zM297 501h1v1h-1zM298 501h1v1h-1zM299 500h1v1h-1zM300 500h1v1h-1zM301 500h1v1h-1zM302 500h1v1h-1zM303 500h1v1h-1zM304 500h1v1h-1zM305 500h1v1h-1zM306 500h1v1h-1zM307 499h1v1h-1zM308 499h1v1h-1zM309 499h1v1h-1zM310 499h1v1h-1zM311 498h1v1h-1zM312 498h1v1h-1zM313 498h1v1h-1zM314 498h1v1h-1zM315 498h1v1h-1zM316 498h1v1h-1zM317 498h1v1h-1zM318 498h1v1h-1zM319 499h1v1h-1zM320 499h1v1h-1zM321 499h1v1h-1zM322 499h1v1h-1zM323 499h1v1h-1zM324 499h1v1h-1zM325 499h1v1h-1zM326 499h1v1h-1zM327 500h1v1h-1zM328 500h1v1h-1zM329 500h1v1h-1zM330 500h1v1h-1zM331 500h1v1h-1zM332 500h1v1h-1zM333 500h1v1h-1zM334 500h1v1h-1zM335 501h1v1h-1zM336 501h1v1h-1zM337 501h1v1h-1zM338 501h1v1h-1zM339 502h1v1h-1zM340 502h1v1h-1zM341 502h1v1h-1zM342 502h1v1h-1zM343 503h1v1h-1zM344 503h1v1h-1zM345 503h1v1h-1zM346 503h1v1h-1zM347 503h1v1h-1zM348 503h1v1h-1zM349 503h1v1h-1zM350 503h1v1h-1zM351 504h1v1h-1zM352 504h1v1h-1zM353 504h1v1h-1zM354 505h1v1h-1zM355 505h1v1h-1zM356 506h1v1h-1zM357 506h1v1h-1zM358 506h1v1h-1zM359 507h1v1h-1zM360 507h1v1h-1zM361 507h1v1h-1zM362 508h1v1h-1zM363 509h1v1h-1zM364 509h1v1h-1zM365 510h1v1h-1zM366 511h1v1h-1zM367 512h1v1h-1zM368 512h1v1h-1zM369 513h1v1h-1zM370 514h1v1h-1zM371 515h1v1h-1zM372 515h1v1h-1zM373 516h1v1h-1zM374 517h1v1h-1zM375 518h1v1h-1zM376 518h1v1h-1zM377 519h1v1h-1zM378 520h1v1h-1zM379 521h1v1h-1zM380 521h1v1h-1zM381 522h1v1h-1zM382 523h1v1h-1zM383 524h1v1h-1zM384 524h1v1h-1zM385 525h1v1h-1zM386 526h1v1h-1zM387 526h1v1h-1zM388 527h1v1h-1zM389 527h1v1h-1zM390 528h1v1h-1zM391 528h1v1h-1zM392 529h1v1h-1zM393 529h1v1h-1zM394 529h1v1h-1zM395 529h1v1h-1zM396 529h1v1h-1zM397 529h1v1h-1zM398 529h1v1h-1zM399 529h1v1h-1zM400 529h1v1h-1zM401 529h1v1h-1zM402 529h1v1h-1zM403 528h1v1h-1zM404 528h1v1h-1zM405 528h1v1h-1zM406 528h1v1h-1zM407 527h1v1h-1zM408 527h1v1h-1zM409 527h1v1h-1zM410 526h1v1h-1zM411 526h1v1h-1zM412 525h1v1h-1zM413 525h1v1h-1zM414 524h1v1h-1zM415 524h1v1h-1zM416 523h1v1h-1zM417 523h1v1h-1zM418 523h1v1h-1zM419 522h1v1h-1zM420 522h1v1h-1zM421 522h1v1h-1zM422 522h1v1h-1zM423 521h1v1h-1zM424 521h1v1h-1zM425 521h1v1h-1zM426 521h1v1h-1zM427 520h1v1h-1zM428 520h1v1h-1zM429 520h1v1h-1zM430 520h1v1h-1zM431 519h1v1h-1zM432 519h1v1h-1zM433 519h1v1h-1zM434 519h1v1h-1zM435 519h1v1h-1zM436 519h1v1h-1zM437 519h1v1h-1zM438 519h1v1h-1zM439 519h1v1h-1zM440 519h1v1h-1zM441 519h1v1h-1zM442 519h1v1h-1zM443 519h1v1h-1zM444 519h1v1h-1zM445 519h1v1h-1zM446 519h1v1h-1zM447 519h1v1h-1zM448 519h1v1h-1zM449 519h1v1h-1zM450 519h1v1h-1zM451 519h1v1h-1zM452 519h1v1h-1zM453 519h1v1h-1zM454 519h1v1h-1zM455 518h1v1h-1zM456 518h1v1h-1zM457 518h1v1h-1zM458 518h1v1h-1zM459 517h1v1h-1zM460 517h1v1h-1zM461 517h1v1h-1zM462 517h1v1h-1zM463 517h1v1h-1zM464 517h1v1h-1zM465 517h1v1h-1zM466 517h1v1h-1zM467 516h1v1h-1zM468 516h1v1h-1zM469 516h1v1h-1zM470 515h1v1h-1zM471 515h1v1h-1zM472 514h1v1h-1zM473 514h1v1h-1zM474 514h1v1h-1zM475 513h1v1h-1zM476 513h1v1h-1zM477 513h1v1h-1zM478 513h1v1h-1zM479 513h1v1h-1zM480 513h1v1h-1zM481 513h1v1h-1zM482 513h1v1h-1zM483 514h1v1h-1zM484 514h1v1h-1zM485 514h1v1h-1zM486 514h1v1h-1zM487 515h1v1h-1zM488 515h1v1h-1zM489 515h1v1h-1zM490 515h1v1h-1zM491 516h1v1h-1zM492 516h1v1h-1zM493 516h1v1h-1zM494 517h1v1h-1zM495 518h1v1h-1zM496 518h1v1h-1zM497 519h1v1h-1zM498 520h1v1h-1zM499 520h1v1h-1zM500 521h1v1h-1zM501 521h1v1h-1zM502 522h1v1h-1zM503 523h1v1h-1zM504 523h1v1h-1zM505 524h1v1h-1zM506 525h1v1h-1zM507 526h1v1h-1zM508 527h1v1h-1zM509 528h1v1h-1zM510 529h1v1h-1zM511 530h1v1h-1zM512 531h1v1h-1zM513 532h1v1h-1zM514 533h1v1h-1zM515 534h1v1h-1zM516 534h1v1h-1zM517 535h1v1h-1zM518 536h1v1h-1zM519 537h1v1h-1zM520 538h1v1h-1zM521 539h1v1h-1zM522 540h1v1h-1zM523 541h1v1h-1zM524 541h1v1h-1zM525 542h1v1h-1zM526 543h1v1h-1zM527 544h1v1h-1zM528 544h1v1h-1zM529 545h1v1h-1zM530 546h1v1h-1zM531 546h1v1h-1zM532 547h1v1h-1zM533 547h1v1h-1zM534 548h1v1h-1zM535 549h1v1h-1zM536 549h1v1h-1zM537 550h1v1h-1zM538 550h1v1h-1zM539 551h1v1h-1zM540 551h1v1h-1zM541 551h1v1h-1zM542 551h1v1h-1zM543 552h1v1h-1zM544 552h1v1h-1zM545 552h1v1h-1zM546 552h1v1h-1zM547 552h1v1h-1zM548 552h1v1h-1zM549 552h1v1h-1zM550 552h1v1h-1zM551 551h1v1h-1zM552 551h1v1h-1zM553 551h1v1h-1zM554 551h1v1h-1zM555 550h1v1h-1zM556 550h1v1h-1zM557 550h1v1h-1zM558 550h1v1h-1zM559 549h1v1h-1zM560 549h1v1h-1zM561 549h1v1h-1zM562 548h1v1h-1zM563 547h1v1h-1zM564 547h1v1h-1zM565 546h1v1h-1zM566 545h1v1h-1zM567 545h1v1h-1zM568 544h1v1h-1zM569 544h1v1h-1zM570 543h1v1h-1zM571 542h1v1h-1zM572 542h1v1h-1zM573 541h1v1h-1zM574 540h1v1h-1zM575 539h1v1h-1zM576 539h1v1h-1zM577 538h1v1h-1zM578 537h1v1h-1zM579 536h1v1h-1zM580 535h1v1h-1zM581 534h1v1h-1zM582 533h1v1h-1zM583 533h1v1h-1zM584 532h1v1h-1zM585 532h1v1h-1zM586 531h1v1h-1zM587 530h1v1h-1zM588 530h1v1h-1zM589 529h1v1h-1zM590 528h1v1h-1zM591 527h1v1h-1zM592 527h1v1h-1zM593 526h1v1h-1zM594 525h1v1h-1zM595 524h1v1h-1zM596 524h1v1h-1zM597 523h1v1h-1zM598 522h1v1h-1zM599 521h1v1h-1zM600 521h1v1h-1zM601 520h1v1h-1zM602 519h1v1h-1zM603 519h1v1h-1zM604 518h1v1h-1zM605 518h1v1h-1zM606 517h1v1h-1zM607 517h1v1h-1zM608 516h1v1h-1zM609 516h1v1h-1zM610 515h1v1h-1zM611 515h1v1h-1zM612 514h1v1h-1zM613 514h1v1h-1zM614 514h1v1h-1zM615 513h1v1h-1zM616 513h1v1h-1zM617 513h1v1h-1zM618 512h1v1h-1zM619 512h1v1h-1zM620 511h1v1h-1zM621 511h1v1h-1zM622 511h1v1h-1zM623 510h1v1h-1zM624 510h1v1h-1zM625 510h1v1h-1zM626 510h1v1h-1zM627 509h1v1h-1zM628 509h1v1h-1zM629 509h1v1h-1zM630 508h1v1h-1zM631 508h1v1h-1zM632 507h1v1h-1zM633 507h1v1h-1zM634 507h1v1h-1zM635 506h1v1h-1zM636 506h1v1h-1zM637 506h1v1h-1zM638 506h1v1h-1zM639 505h1v1h-1zM640 505h1v1h-1zM641 505h1v1h-1zM642 505h1v1h-1zM643 504h1v1h-1zM644 504h1v1h-1zM645 504h1v1h-1zM646 504h1v1h-1zM647 503h1v1h-1zM648 503h1v1h-1zM649 503h1v1h-1zM650 503h1v1h-1zM651 503h1v1h-1zM652 503h1v1h-1zM653 503h1v1h-1zM654 503h1v1h-1zM655 503h1v1h-1zM656 503h1v1h-1zM657 503h1v1h-1zM658 503h1v1h-1zM659 503h1v1h-1zM660 503h1v1h-1zM661 503h1v1h-1zM662 503h1v1h-1zM663 503h1v1h-1zM664 503h1v1h-1zM665 503h1v1h-1zM666 504h1v1h-1zM667 504h1v1h-1zM668 505h1v1h-1zM669 505h1v1h-1zM670 505h1v1h-1zM671 506h1v1h-1zM672 506h1v1h-1zM673 506h1v1h-1zM674 506h1v1h-1zM675 507h1v1h-1zM676 507h1v1h-1zM677 507h1v1h-1zM678 508h1v1h-1zM679 508h1v1h-1zM680 509h1v1h-1zM681 509h1v1h-1zM682 510h1v1h-1zM683 510h1v1h-1zM684 511h1v1h-1zM685 511h1v1h-1zM686 512h1v1h-1zM687 512h1v1h-1zM688 513h1v1h-1zM689 513h1v1h-1zM690 514h1v1h-1zM691 514h1v1h-1zM692 515h1v1h-1zM693 515h1v1h-1zM694 516h1v1h-1zM695 516h1v1h-1zM696 517h1v1h-1zM697 517h1v1h-1zM698 518h1v1h-1zM699 518h1v1h-1zM700 519h1v1h-1zM701 519h1v1h-1zM702 520h1v1h-1zM703 520h1v1h-1zM704 521h1v1h-1zM705 521h1v1h-1zM706 522h1v1h-1zM707 522h1v1h-1zM708 523h1v1h-1zM709 523h1v1h-1zM710 524h1v1h-1zM711 525h1v1h-1zM712 525h1v1h-1zM713 526h1v1h-1zM714 527h1v1h-1zM715 527h1v1h-1zM716 528h1v1h-1zM717 528h1v1h-1zM718 529h1v1h-1zM719 530h1v1h-1zM720 530h1v1h-1zM721 531h1v1h-1zM722 532h1v1h-1zM723 532h1v1h-1zM724 533h1v1h-1zM725 533h1v1h-1zM726 533h1v1h-1zM727 534h1v1h-1zM728 534h1v1h-1zM729 534h1v1h-1zM730 534h1v1h-1zM731 535h1v1h-1zM732 535h1v1h-1zM733 535h1v1h-1zM734 535h1v1h-1zM735 536h1v1h-1zM736 536h1v1h-1zM737 536h1v1h-1zM738 536h1v1h-1zM739 537h1v1h-1zM740 537h1v1h-1zM741 537h1v1h-1zM742 537h1v1h-1zM743 538h1v1h-1zM744 538h1v1h-1zM745 538h1v1h-1zM746 538h1v1h-1zM747 539h1v1h-1zM748 539h1v1h-1zM749 539h1v1h-1zM750 539h1v1h-1zM751 539h1v1h-1zM752 539h1v1h-1zM753 539h1v1h-1zM754 540h1v1h-1zM755 540h1v1h-1zM756 541h1v1h-1zM757 541h1v1h-1zM758 542h1v1h-1zM759 542h1v1h-1zM760 543h1v1h-1zM761 543h1v1h-1zM762 544h1v1h-1zM763 544h1v1h-1zM764 545h1v1h-1zM765 545h1v1h-1zM766 546h1v1h-1zM767 547h1v1h-1zM768 547h1v1h-1zM769 548h1v1h-1zM770 549h1v1h-1zM771 550h1v1h-1zM772 550h1v1h-1zM773 551h1v1h-1zM774 552h1v1h-1zM775 553h1v1h-1zM776 553h1v1h-1zM777 554h1v1h-1zM778 555h1v1h-1zM779 555h1v1h-1zM780 556h1v1h-1zM781 556h1v1h-1zM782 556h1v1h-1zM783 557h1v1h-1zM784 557h1v1h-1zM785 557h1v1h-1zM786 557h1v1h-1zM787 558h1v1h-1zM788 558h1v1h-1zM789 558h1v1h-1zM790 558h1v1h-1zM791 557h1v1h-1zM792 557h1v1h-1zM793 557h1v1h-1zM794 557h1v1h-1zM795 556h1v1h-1zM796 556h1v1h-1zM797 556h1v1h-1zM798 555h1v1h-1zM799 555h1v1h-1zM800 554h1v1h-1zM801 554h1v1h-1zM802 553h1v1h-1zM803 553h1v1h-1zM804 552h1v1h-1zM805 552h1v1h-1zM806 551h1v1h-1zM807 551h1v1h-1zM808 550h1v1h-1zM809 550h1v1h-1zM810 549h1v1h-1zM811 548h1v1h-1zM812 548h1v1h-1zM813 547h1v1h-1zM814 546h1v1h-1zM815 546h1v1h-1zM816 545h1v1h-1zM817 545h1v1h-1zM818 544h1v1h-1zM819 543h1v1h-1zM820 543h1v1h-1zM821 542h1v1h-1zM822 541h1v1h-1zM823 541h1v1h-1zM824 540h1v1h-1zM825 540h1v1h-1zM826 539h1v1h-1zM827 539h1v1h-1zM828 538h1v1h-1zM829 538h1v1h-1zM830 538h1v1h-1zM831 537h1v1h-1zM832 537h1v1h-1zM833 537h1v1h-1zM834 536h1v1h-1zM835 535h1v1h-1zM836 535h1v1h-1zM837 534h1v1h-1zM838 533h1v1h-1zM839 533h1v1h-1zM840 532h1v1h-1zM841 532h1v1h-1zM842 531h1v1h-1zM843 531h1v1h-1zM844 530h1v1h-1zM845 530h1v1h-1zM846 529h1v1h-1zM847 528h1v1h-1zM848 528h1v1h-1zM849 527h1v1h-1zM850 526h1v1h-1zM851 525h1v1h-1zM852 525h1v1h-1zM853 524h1v1h-1zM854 523h1v1h-1zM855 522h1v1h-1zM856 522h1v1h-1zM857 521h1v1h-1zM858 520h1v1h-1zM859 519h1v1h-1zM860 518h1v1h-1zM861 517h1v1h-1zM862 516h1v1h-1zM863 515h1v1h-1zM864 515h1v1h-1zM865 514h1v1h-1zM866 513h1v1h-1zM867 512h1v1h-1zM868 511h1v1h-1zM869 510h1v1h-1zM870 509h1v1h-1zM871 508h1v1h-1zM872 508h1v1h-1zM873 507h1v1h-1zM874 506h1v1h-1zM875 505h1v1h-1zM876 505h1v1h-1zM877 504h1v1h-1z" fill="#FF0000" shape-rendering="crispEdges"/>
<g font-family='"Liberation Sans", sans-serif'>
<path d="M8,27 H15 L11.5,31 Z" fill="#000"/>
<text x="20.0" y="31.6" font-size="9.5" fill="#000" text-anchor="start" font-weight="normal" textLength="64.7" lengthAdjust="spacingAndGlyphs" stroke="#000" stroke-width="0.15">USDCAD,Daily</text>
<text x="92.6" y="31.6" font-size="9.5" fill="#000" text-anchor="start" font-weight="normal" textLength="139.7" lengthAdjust="spacingAndGlyphs" stroke="#000" stroke-width="0.15">1.32632 1.33028 1.32607 1.32902</text>
<text x="9.5" y="406.6" font-size="9.5" fill="#000" text-anchor="start" font-weight="normal" textLength="66.7" lengthAdjust="spacingAndGlyphs" stroke="#000" stroke-width="0.15">RSI(14) 78.1491</text>
<text x="9.9" y="498.6" font-size="9.5" fill="#000" text-anchor="start" font-weight="normal" textLength="146.5" lengthAdjust="spacingAndGlyphs" stroke="#000" stroke-width="0.15">MACD(12,26,9) 0.004676 0.002752</text>
<text x="1113.4" y="29.6" font-size="9.5" fill="#000" text-anchor="start" font-weight="normal" textLength="32.4" lengthAdjust="spacingAndGlyphs" stroke="#000" stroke-width="0.15">1.35875</text>
<text x="1113.4" y="62.6" font-size="9.5" fill="#000" text-anchor="start" font-weight="normal" textLength="32.4" lengthAdjust="spacingAndGlyphs" stroke="#000" stroke-width="0.15">1.35275</text>
<text x="1113.4" y="95.6" font-size="9.5" fill="#000" text-anchor="start" font-weight="normal" textLength="32.4" lengthAdjust="spacingAndGlyphs" stroke="#000" stroke-width="0.15">1.34690</text>
<text x="1113.4" y="128.6" font-size="9.5" fill="#000" text-anchor="start" font-weight="normal" textLength="32.4" lengthAdjust="spacingAndGlyphs" stroke="#000" stroke-width="0.15">1.34105</text>
<text x="1113.4" y="161.6" font-size="9.5" fill="#000" text-anchor="start" font-weight="normal" textLength="32.4" lengthAdjust="spacingAndGlyphs" stroke="#000" stroke-width="0.15">1.33520</text>
<text x="1113.4" y="194.6" font-size="9.5" fill="#000" text-anchor="start" font-weight="normal" textLength="32.4" lengthAdjust="spacingAndGlyphs" stroke="#000" stroke-width="0.15">1.32935</text>
<text x="1113.4" y="227.6" font-size="9.5" fill="#000" text-anchor="start" font-weight="normal" textLength="32.4" lengthAdjust="spacingAndGlyphs" stroke="#000" stroke-width="0.15">1.32335</text>
<text x="1113.4" y="260.6" font-size="9.5" fill="#000" text-anchor="start" font-weight="normal" textLength="32.4" lengthAdjust="spacingAndGlyphs" stroke="#000" stroke-width="0.15">1.31750</text>
<text x="1113.4" y="293.6" font-size="9.5" fill="#000" text-anchor="start" font-weight="normal" textLength="32.4" lengthAdjust="spacingAndGlyphs" stroke="#000" stroke-width="0.15">1.31165</text>
<text x="1113.4" y="326.6" font-size="9.5" fill="#000" text-anchor="start" font-weight="normal" textLength="32.4" lengthAdjust="spacingAndGlyphs" stroke="#000" stroke-width="0.15">1.30565</text>
<text x="1113.4" y="359.6" font-size="9.5" fill="#000" text-anchor="start" font-weight="normal" textLength="32.4" lengthAdjust="spacingAndGlyphs" stroke="#000" stroke-width="0.15">1.29980</text>
<text x="1113.4" y="392.6" font-size="9.5" fill="#000" text-anchor="start" font-weight="normal" textLength="32.4" lengthAdjust="spacingAndGlyphs" stroke="#000" stroke-width="0.15">1.29395</text>
<text x="1113.6" y="122.6" font-size="9.5" fill="#FFF" text-anchor="start" font-weight="normal" textLength="32.2" lengthAdjust="spacingAndGlyphs" stroke="#FFF" stroke-width="0.15">1.34197</text>
<text x="1113.6" y="195.6" font-size="9.5" fill="#FFF" text-anchor="start" font-weight="normal" textLength="32.2" lengthAdjust="spacingAndGlyphs" stroke="#FFF" stroke-width="0.15">1.32902</text>
<text x="1113.6" y="205.6" font-size="9.5" fill="#FFF" text-anchor="start" font-weight="normal" textLength="32.2" lengthAdjust="spacingAndGlyphs" stroke="#FFF" stroke-width="0.15">1.32713</text>
<text x="1113.6" y="278.6" font-size="9.5" fill="#FFF" text-anchor="start" font-weight="normal" textLength="32.2" lengthAdjust="spacingAndGlyphs" stroke="#FFF" stroke-width="0.15">1.31407</text>
<text x="1113.6" y="348.6" font-size="9.5" fill="#FFF" text-anchor="start" font-weight="normal" textLength="32.2" lengthAdjust="spacingAndGlyphs" stroke="#FFF" stroke-width="0.15">1.30155</text>
<text x="1111.3" y="404.6" font-size="9.5" fill="#000" text-anchor="start" font-weight="normal" textLength="14.6" lengthAdjust="spacingAndGlyphs" stroke="#000" stroke-width="0.15">100</text>
<text x="1110.2" y="425.6" font-size="9.5" fill="#000" text-anchor="start" font-weight="normal" textLength="9.5" lengthAdjust="spacingAndGlyphs" stroke="#000" stroke-width="0.15">70</text>
<text x="1108.1" y="460.6" font-size="9.5" fill="#000" text-anchor="start" font-weight="normal" textLength="11.7" lengthAdjust="spacingAndGlyphs" stroke="#000" stroke-width="0.15">30</text>
<text x="1111.1" y="480.6" font-size="9.5" fill="#000" text-anchor="start" font-weight="normal" textLength="4.8" lengthAdjust="spacingAndGlyphs" stroke="#000" stroke-width="0.15">0</text>
<text x="1111.2" y="496.6" font-size="9.5" fill="#000" text-anchor="start" font-weight="normal" textLength="37.8" lengthAdjust="spacingAndGlyphs" stroke="#000" stroke-width="0.15">0.005324</text>
<text x="1111.2" y="525.6" font-size="9.5" fill="#000" text-anchor="start" font-weight="normal" textLength="17.5" lengthAdjust="spacingAndGlyphs" stroke="#000" stroke-width="0.15">0.00</text>
<text x="1110.8" y="576.6" font-size="9.5" fill="#000" text-anchor="start" font-weight="normal" textLength="43.7" lengthAdjust="spacingAndGlyphs" stroke="#000" stroke-width="0.15">-0.008929</text>
<text x="4.3" y="592.6" font-size="9.5" fill="#000" text-anchor="start" font-weight="normal" textLength="54.3" lengthAdjust="spacingAndGlyphs" stroke="#000" stroke-width="0.15">25 May 2019</text>
<text x="69.0" y="592.6" font-size="9.5" fill="#000" text-anchor="start" font-weight="normal" textLength="48.6" lengthAdjust="spacingAndGlyphs" stroke="#000" stroke-width="0.15">13 Jun 2019</text>
<text x="132.4" y="592.6" font-size="9.5" fill="#000" text-anchor="start" font-weight="normal" textLength="41.2" lengthAdjust="spacingAndGlyphs" stroke="#000" stroke-width="0.15">2 Jul 2019</text>
<text x="196.4" y="592.6" font-size="9.5" fill="#000" text-anchor="start" font-weight="normal" textLength="46.0" lengthAdjust="spacingAndGlyphs" stroke="#000" stroke-width="0.15">20 Jul 2019</text>
<text x="259.8" y="592.6" font-size="9.5" fill="#000" text-anchor="start" font-weight="normal" textLength="47.7" lengthAdjust="spacingAndGlyphs" stroke="#000" stroke-width="0.15">8 Aug 2019</text>
<text x="324.2" y="592.6" font-size="9.5" fill="#000" text-anchor="start" font-weight="normal" textLength="52.1" lengthAdjust="spacingAndGlyphs" stroke="#000" stroke-width="0.15">27 Aug 2019</text>
<text x="388.5" y="592.6" font-size="9.5" fill="#000" text-anchor="start" font-weight="normal" textLength="51.4" lengthAdjust="spacingAndGlyphs" stroke="#000" stroke-width="0.15">14 Sep 2019</text>
<text x="452.3" y="592.6" font-size="9.5" fill="#000" text-anchor="start" font-weight="normal" textLength="45.1" lengthAdjust="spacingAndGlyphs" stroke="#000" stroke-width="0.15">3 Oct 2019</text>
<text x="516.3" y="592.6" font-size="9.5" fill="#000" text-anchor="start" font-weight="normal" textLength="50.5" lengthAdjust="spacingAndGlyphs" stroke="#000" stroke-width="0.15">22 Oct 2019</text>
<text x="580.3" y="592.6" font-size="9.5" fill="#000" text-anchor="start" font-weight="normal" textLength="48.8" lengthAdjust="spacingAndGlyphs" stroke="#000" stroke-width="0.15">9 Nov 2019</text>
<text x="644.3" y="592.6" font-size="9.5" fill="#000" text-anchor="start" font-weight="normal" textLength="53.2" lengthAdjust="spacingAndGlyphs" stroke="#000" stroke-width="0.15">28 Nov 2019</text>
<text x="708.2" y="592.6" font-size="9.5" fill="#000" text-anchor="start" font-weight="normal" textLength="51.5" lengthAdjust="spacingAndGlyphs" stroke="#000" stroke-width="0.15">17 Dec 2019</text>
<text x="772.3" y="592.6" font-size="9.5" fill="#000" text-anchor="start" font-weight="normal" textLength="45.0" lengthAdjust="spacingAndGlyphs" stroke="#000" stroke-width="0.15">4 Jan 2020</text>
<text x="836.3" y="592.6" font-size="9.5" fill="#000" text-anchor="start" font-weight="normal" textLength="50.0" lengthAdjust="spacingAndGlyphs" stroke="#000" stroke-width="0.15">23 Jan 2020</text>
<text x="14.8" y="8" font-size="9.9" fill="#3C3C3C" text-anchor="start" font-weight="normal" textLength="12.1" lengthAdjust="spacingAndGlyphs">H4</text>
<text x="43.9" y="8" font-size="9.9" fill="#3C3C3C" text-anchor="start" font-weight="normal" textLength="11.0" lengthAdjust="spacingAndGlyphs">D1</text>
<text x="71.2" y="8" font-size="9.9" fill="#3C3C3C" text-anchor="start" font-weight="normal" textLength="14.0" lengthAdjust="spacingAndGlyphs">W1</text>
<text x="97.9" y="8" font-size="9.9" fill="#3C3C3C" text-anchor="start" font-weight="normal" textLength="15.2" lengthAdjust="spacingAndGlyphs">MN</text>
<text x="17.7" y="618" font-size="12.2" fill="#777777" text-anchor="start" font-weight="normal" textLength="79.8" lengthAdjust="spacingAndGlyphs">EURUSD,Daily</text>
<text x="121.0" y="618" font-size="12.2" fill="#777777" text-anchor="start" font-weight="normal" textLength="82.0" lengthAdjust="spacingAndGlyphs">AUDUSD,Daily</text>
<text x="223.3" y="618" font-size="12.2" fill="#777777" text-anchor="start" font-weight="normal" textLength="79.3" lengthAdjust="spacingAndGlyphs">USDCHF,Daily</text>
<text x="427.5" y="618" font-size="12.2" fill="#777777" text-anchor="start" font-weight="normal" textLength="83.7" lengthAdjust="spacingAndGlyphs">USDCNH,Daily</text>
<text x="531.1" y="618" font-size="12.2" fill="#777777" text-anchor="start" font-weight="normal" textLength="68.3" lengthAdjust="spacingAndGlyphs">EURGBP,H4</text>
<text x="620.4" y="618" font-size="12.2" fill="#777777" text-anchor="start" font-weight="normal" textLength="70.2" lengthAdjust="spacingAndGlyphs">NZDUSD,H1</text>
<text x="714.3" y="618" font-size="12.2" fill="#777777" text-anchor="start" font-weight="normal" textLength="67.4" lengthAdjust="spacingAndGlyphs">GBPUSD,H4</text>
<text x="325.8" y="618" font-size="12.2" fill="#000" text-anchor="start" font-weight="normal" textLength="79.9" lengthAdjust="spacingAndGlyphs">USDCAD,Daily</text>
<path d="M1125 609h1v6h-1zM1124 610h1v4h-1zM1123 611h1v2h-1zM1142 609h1v6h-1zM1143 610h1v4h-1zM1144 611h1v2h-1z" fill="#8C8C8C" shape-rendering="crispEdges"/>
</g>
</svg>
</body></html>
